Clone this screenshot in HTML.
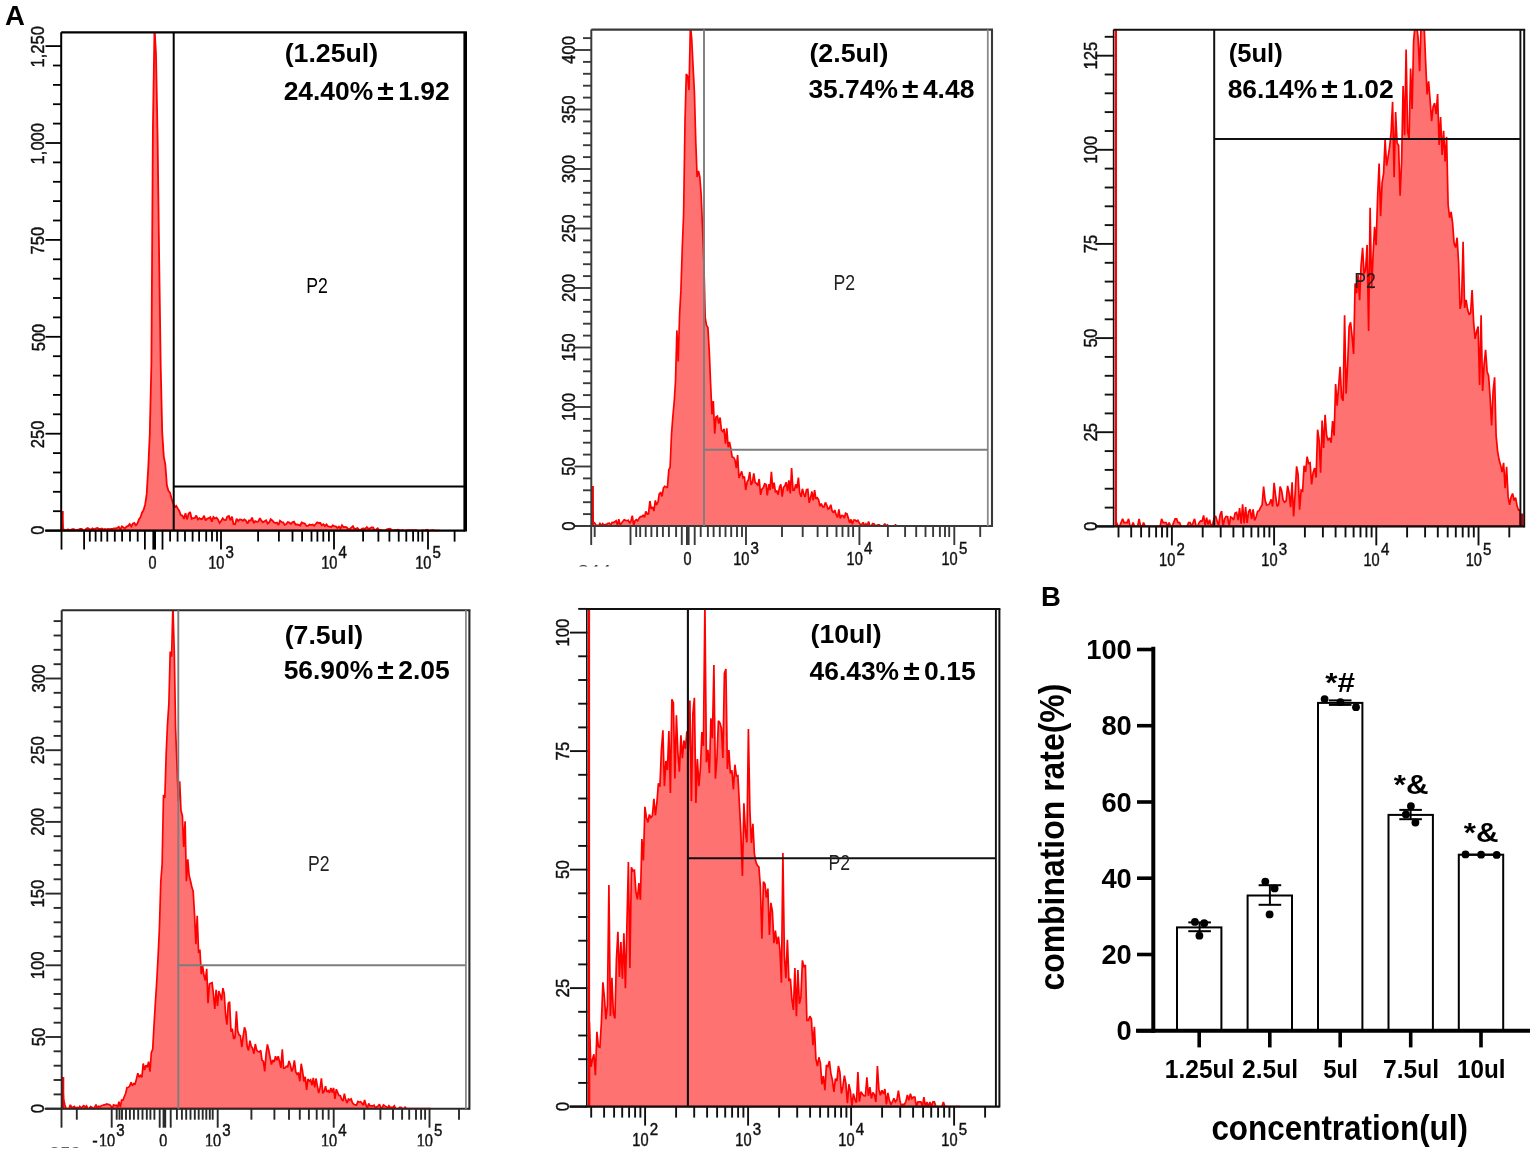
<!DOCTYPE html>
<html><head><meta charset="utf-8"><title>Figure</title>
<style>
html,body{margin:0;padding:0;background:#fff}
svg{display:block}
text{font-family:"Liberation Sans",sans-serif}
</style></head><body>
<svg width="1535" height="1152" viewBox="0 0 1535 1152">
<rect width="1535" height="1152" fill="#fff"/>
<text x="5.0" y="24.5" font-size="27.5" font-weight="bold" text-anchor="start" fill="#000" >A</text>
<clipPath id="c1"><rect x="61.2" y="32.3" width="404.0" height="499.3"/></clipPath>
<g clip-path="url(#c1)">
<path d="M61.5,530.6L61.5,511.0L63.0,529.2L64.6,529.8L66.1,530.6L67.7,529.5L69.2,529.7L70.8,529.8L72.3,529.2L73.9,529.1L75.4,530.2L77.0,530.0L78.5,529.7L80.1,528.8L81.6,528.9L83.2,530.3L84.7,530.1L86.3,528.7L87.8,528.0L89.4,529.2L90.9,529.7L92.5,528.3L94.0,529.4L95.6,528.5L97.1,527.9L98.7,528.6L100.2,529.0L101.8,528.4L103.3,529.5L104.9,529.0L106.4,529.3L108.0,528.9L109.5,529.1L111.1,528.8L112.6,528.9L114.2,528.4L115.7,528.3L117.3,528.0L118.8,526.9L120.4,529.6L121.9,526.3L123.5,527.5L125.0,528.3L126.6,526.6L128.1,525.9L129.7,524.1L131.2,526.4L132.8,523.6L134.3,522.9L135.9,525.2L137.4,523.5L139.0,519.3L140.5,517.2L142.1,512.5L143.6,510.0L145.2,504.2L146.7,493.9L148.3,467.0L149.8,433.5L151.4,363.8L152.9,129.0L154.5,27.3L156.0,54.1L157.6,138.3L159.1,254.6L160.7,366.1L162.2,432.4L163.8,456.6L165.3,464.4L166.9,485.3L168.4,490.8L170.0,492.7L171.5,498.2L173.1,503.2L174.6,506.9L176.2,505.8L177.7,508.4L179.3,511.0L180.8,515.1L182.4,515.6L183.9,518.9L185.5,513.2L187.0,519.4L188.6,513.7L190.1,512.0L191.7,518.8L193.2,518.2L194.8,518.0L196.3,515.5L197.9,519.4L199.4,518.1L201.0,519.2L202.5,518.7L204.1,515.7L205.6,520.5L207.2,518.5L208.7,518.2L210.3,517.2L211.8,521.6L213.4,516.9L214.9,518.5L216.5,517.7L218.0,519.5L219.6,523.0L221.1,521.1L222.7,518.3L224.2,519.9L225.8,520.1L227.3,516.6L228.9,515.9L230.4,520.3L232.0,516.6L233.5,524.1L235.1,524.3L236.6,518.8L238.2,521.0L239.7,519.4L241.3,519.6L242.8,520.8L244.4,519.4L245.9,520.5L247.5,523.7L249.0,520.5L250.6,520.6L252.1,517.6L253.7,523.1L255.2,521.1L256.8,521.9L258.3,521.5L259.9,518.2L261.4,520.7L263.0,522.3L264.5,521.3L266.1,520.3L267.6,523.5L269.2,522.3L270.7,519.2L272.3,520.5L273.8,522.2L275.4,523.0L276.9,522.5L278.5,525.0L280.0,520.8L281.6,522.0L283.1,522.4L284.7,524.9L286.2,524.0L287.8,522.0L289.3,522.6L290.9,523.9L292.4,522.3L294.0,521.7L295.5,524.5L297.1,524.3L298.6,524.9L300.2,525.5L301.7,522.5L303.3,523.1L304.8,523.5L306.4,525.9L307.9,525.9L309.5,524.5L311.0,525.1L312.6,524.5L314.1,525.8L315.7,524.0L317.2,522.4L318.8,523.0L320.3,523.0L321.9,525.3L323.4,524.3L325.0,526.2L326.5,524.5L328.1,526.4L329.6,526.7L331.2,527.0L332.7,525.4L334.3,526.1L335.8,526.3L337.4,528.0L338.9,526.6L340.5,528.6L342.0,525.2L343.6,527.2L345.1,526.9L346.7,527.4L348.2,529.2L349.8,529.0L351.3,527.6L352.9,526.1L354.4,529.0L356.0,528.6L357.5,528.1L359.1,529.8L360.6,529.9L362.2,528.7L363.7,528.4L365.3,528.8L366.8,527.1L368.4,528.8L369.9,528.4L371.5,527.4L373.0,527.4L374.6,530.3L376.1,529.4L377.7,528.2L379.2,530.3L380.8,530.0L382.3,530.3L383.9,530.4L385.4,530.3L387.0,529.4L388.5,528.8L390.1,528.7L391.6,529.7L393.2,530.6L394.7,529.9L396.3,530.1L397.8,529.7L399.4,530.0L400.9,530.6L402.5,529.9L404.0,530.6L405.6,530.5L407.1,530.1L408.7,530.1L410.2,530.2L411.8,530.2L413.3,530.2L414.9,530.2L416.4,530.2L418.0,530.6L419.5,530.6L421.1,530.6L422.6,530.2L424.2,530.6L425.7,530.2L427.3,529.8L428.8,530.6L430.4,530.6L431.9,530.2L433.5,530.2L435.0,530.6L436.6,530.6L438.1,530.6L439.7,530.6L439.7,530.6 Z" fill="#ff7272" stroke="#ff0000" stroke-width="1.80" stroke-linejoin="miter" stroke-miterlimit="2"/>
</g>
<line x1="62.6" y1="511.0" x2="62.6" y2="530.6" stroke="#ff0000" stroke-width="2.20"/>
<line x1="61.2" y1="32.3" x2="466.9" y2="32.3" stroke="#000" stroke-width="2.20"/>
<line x1="61.2" y1="32.3" x2="61.2" y2="530.6" stroke="#000" stroke-width="2.00"/>
<line x1="45.2" y1="530.6" x2="465.2" y2="530.6" stroke="#000" stroke-width="2.20"/>
<line x1="465.2" y1="32.3" x2="465.2" y2="531.6" stroke="#000" stroke-width="3.60"/>
<line x1="173.7" y1="32.3" x2="173.7" y2="530.6" stroke="#000" stroke-width="2.00"/>
<line x1="173.7" y1="486.5" x2="465.2" y2="486.5" stroke="#000" stroke-width="2.00"/>
<line x1="45.5" y1="530.6" x2="61.2" y2="530.6" stroke="#000" stroke-width="1.80"/>
<line x1="53.0" y1="511.2" x2="61.2" y2="511.2" stroke="#000" stroke-width="1.80"/>
<line x1="53.0" y1="491.8" x2="61.2" y2="491.8" stroke="#000" stroke-width="1.80"/>
<line x1="53.0" y1="472.5" x2="61.2" y2="472.5" stroke="#000" stroke-width="1.80"/>
<line x1="53.0" y1="453.1" x2="61.2" y2="453.1" stroke="#000" stroke-width="1.80"/>
<line x1="45.5" y1="433.7" x2="61.2" y2="433.7" stroke="#000" stroke-width="1.80"/>
<line x1="53.0" y1="414.3" x2="61.2" y2="414.3" stroke="#000" stroke-width="1.80"/>
<line x1="53.0" y1="394.9" x2="61.2" y2="394.9" stroke="#000" stroke-width="1.80"/>
<line x1="53.0" y1="375.6" x2="61.2" y2="375.6" stroke="#000" stroke-width="1.80"/>
<line x1="53.0" y1="356.2" x2="61.2" y2="356.2" stroke="#000" stroke-width="1.80"/>
<line x1="45.5" y1="336.8" x2="61.2" y2="336.8" stroke="#000" stroke-width="1.80"/>
<line x1="53.0" y1="317.4" x2="61.2" y2="317.4" stroke="#000" stroke-width="1.80"/>
<line x1="53.0" y1="298.0" x2="61.2" y2="298.0" stroke="#000" stroke-width="1.80"/>
<line x1="53.0" y1="278.7" x2="61.2" y2="278.7" stroke="#000" stroke-width="1.80"/>
<line x1="53.0" y1="259.3" x2="61.2" y2="259.3" stroke="#000" stroke-width="1.80"/>
<line x1="45.5" y1="239.9" x2="61.2" y2="239.9" stroke="#000" stroke-width="1.80"/>
<line x1="53.0" y1="220.5" x2="61.2" y2="220.5" stroke="#000" stroke-width="1.80"/>
<line x1="53.0" y1="201.1" x2="61.2" y2="201.1" stroke="#000" stroke-width="1.80"/>
<line x1="53.0" y1="181.8" x2="61.2" y2="181.8" stroke="#000" stroke-width="1.80"/>
<line x1="53.0" y1="162.4" x2="61.2" y2="162.4" stroke="#000" stroke-width="1.80"/>
<line x1="45.5" y1="143.0" x2="61.2" y2="143.0" stroke="#000" stroke-width="1.80"/>
<line x1="53.0" y1="123.6" x2="61.2" y2="123.6" stroke="#000" stroke-width="1.80"/>
<line x1="53.0" y1="104.2" x2="61.2" y2="104.2" stroke="#000" stroke-width="1.80"/>
<line x1="53.0" y1="84.9" x2="61.2" y2="84.9" stroke="#000" stroke-width="1.80"/>
<line x1="53.0" y1="65.5" x2="61.2" y2="65.5" stroke="#000" stroke-width="1.80"/>
<line x1="45.5" y1="46.1" x2="61.2" y2="46.1" stroke="#000" stroke-width="1.80"/>
<text x="44.5" y="46.8" font-size="19.0" font-weight="normal" text-anchor="middle" fill="#111" textLength="41.4" lengthAdjust="spacingAndGlyphs" transform="rotate(-90 44.5 46.8)" stroke="#111" stroke-width="0.45">1,250</text>
<text x="44.5" y="143.7" font-size="19.0" font-weight="normal" text-anchor="middle" fill="#111" textLength="41.4" lengthAdjust="spacingAndGlyphs" transform="rotate(-90 44.5 143.7)" stroke="#111" stroke-width="0.45">1,000</text>
<text x="44.5" y="240.6" font-size="19.0" font-weight="normal" text-anchor="middle" fill="#111" textLength="27.6" lengthAdjust="spacingAndGlyphs" transform="rotate(-90 44.5 240.6)" stroke="#111" stroke-width="0.45">750</text>
<text x="44.5" y="337.5" font-size="19.0" font-weight="normal" text-anchor="middle" fill="#111" textLength="27.6" lengthAdjust="spacingAndGlyphs" transform="rotate(-90 44.5 337.5)" stroke="#111" stroke-width="0.45">500</text>
<text x="44.5" y="434.4" font-size="19.0" font-weight="normal" text-anchor="middle" fill="#111" textLength="27.6" lengthAdjust="spacingAndGlyphs" transform="rotate(-90 44.5 434.4)" stroke="#111" stroke-width="0.45">250</text>
<text x="44.5" y="530.1" font-size="19.0" font-weight="normal" text-anchor="middle" fill="#111" textLength="9.2" lengthAdjust="spacingAndGlyphs" transform="rotate(-90 44.5 530.1)" stroke="#111" stroke-width="0.45">0</text>
<line x1="61.5" y1="530.6" x2="61.5" y2="549.6" stroke="#000" stroke-width="1.80"/>
<line x1="84.1" y1="530.6" x2="84.1" y2="549.6" stroke="#000" stroke-width="1.80"/>
<line x1="89.8" y1="530.6" x2="89.8" y2="541.6" stroke="#000" stroke-width="1.80"/>
<line x1="95.6" y1="530.6" x2="95.6" y2="541.6" stroke="#000" stroke-width="1.80"/>
<line x1="101.3" y1="530.6" x2="101.3" y2="541.6" stroke="#000" stroke-width="1.80"/>
<line x1="107.3" y1="530.6" x2="107.3" y2="541.6" stroke="#000" stroke-width="1.80"/>
<line x1="114.8" y1="530.6" x2="114.8" y2="541.6" stroke="#000" stroke-width="1.80"/>
<line x1="122.1" y1="530.6" x2="122.1" y2="541.6" stroke="#000" stroke-width="1.80"/>
<line x1="130.0" y1="530.6" x2="130.0" y2="541.6" stroke="#000" stroke-width="1.80"/>
<line x1="137.7" y1="530.6" x2="137.7" y2="541.6" stroke="#000" stroke-width="1.80"/>
<line x1="144.9" y1="530.6" x2="144.9" y2="549.6" stroke="#000" stroke-width="1.80"/>
<line x1="154.2" y1="530.6" x2="154.2" y2="549.6" stroke="#000" stroke-width="3.60"/>
<line x1="162.5" y1="530.6" x2="162.5" y2="549.6" stroke="#000" stroke-width="1.80"/>
<line x1="170.1" y1="530.6" x2="170.1" y2="541.6" stroke="#000" stroke-width="1.80"/>
<line x1="177.6" y1="530.6" x2="177.6" y2="541.6" stroke="#000" stroke-width="1.80"/>
<line x1="185.0" y1="530.6" x2="185.0" y2="541.6" stroke="#000" stroke-width="1.80"/>
<line x1="192.6" y1="530.6" x2="192.6" y2="541.6" stroke="#000" stroke-width="1.80"/>
<line x1="199.1" y1="530.6" x2="199.1" y2="541.6" stroke="#000" stroke-width="1.80"/>
<line x1="206.2" y1="530.6" x2="206.2" y2="541.6" stroke="#000" stroke-width="1.80"/>
<line x1="212.0" y1="530.6" x2="212.0" y2="541.6" stroke="#000" stroke-width="1.80"/>
<line x1="217.0" y1="530.6" x2="217.0" y2="541.6" stroke="#000" stroke-width="1.80"/>
<line x1="221.0" y1="530.6" x2="221.0" y2="549.6" stroke="#000" stroke-width="1.80"/>
<line x1="258.1" y1="530.6" x2="258.1" y2="541.6" stroke="#000" stroke-width="1.80"/>
<line x1="278.9" y1="530.6" x2="278.9" y2="541.6" stroke="#000" stroke-width="1.80"/>
<line x1="292.5" y1="530.6" x2="292.5" y2="541.6" stroke="#000" stroke-width="1.80"/>
<line x1="302.1" y1="530.6" x2="302.1" y2="541.6" stroke="#000" stroke-width="1.80"/>
<line x1="311.5" y1="530.6" x2="311.5" y2="541.6" stroke="#000" stroke-width="1.80"/>
<line x1="317.4" y1="530.6" x2="317.4" y2="541.6" stroke="#000" stroke-width="1.80"/>
<line x1="323.3" y1="530.6" x2="323.3" y2="541.6" stroke="#000" stroke-width="1.80"/>
<line x1="328.9" y1="530.6" x2="328.9" y2="541.6" stroke="#000" stroke-width="1.80"/>
<line x1="334.0" y1="530.6" x2="334.0" y2="549.6" stroke="#000" stroke-width="1.80"/>
<line x1="363.1" y1="530.6" x2="363.1" y2="541.6" stroke="#000" stroke-width="1.80"/>
<line x1="378.4" y1="530.6" x2="378.4" y2="541.6" stroke="#000" stroke-width="1.80"/>
<line x1="389.4" y1="530.6" x2="389.4" y2="541.6" stroke="#000" stroke-width="1.80"/>
<line x1="398.7" y1="530.6" x2="398.7" y2="541.6" stroke="#000" stroke-width="1.80"/>
<line x1="406.3" y1="530.6" x2="406.3" y2="541.6" stroke="#000" stroke-width="1.80"/>
<line x1="413.1" y1="530.6" x2="413.1" y2="541.6" stroke="#000" stroke-width="1.80"/>
<line x1="418.2" y1="530.6" x2="418.2" y2="541.6" stroke="#000" stroke-width="1.80"/>
<line x1="422.4" y1="530.6" x2="422.4" y2="541.6" stroke="#000" stroke-width="1.80"/>
<line x1="428.0" y1="530.6" x2="428.0" y2="549.6" stroke="#000" stroke-width="1.80"/>
<line x1="454.6" y1="530.6" x2="454.6" y2="541.6" stroke="#000" stroke-width="1.80"/>
<clipPath id="c1x"><rect x="60" y="540" width="420" height="28.7"/></clipPath><g clip-path="url(#c1x)">
<text x="148.5" y="569.3" font-size="18.2" font-weight="normal" text-anchor="start" fill="#111" textLength="8.0" lengthAdjust="spacingAndGlyphs" stroke="#111" stroke-width="0.45">0</text>
<text x="208.2" y="569.3" font-size="18.2" font-weight="normal" text-anchor="start" fill="#111" textLength="16.2" lengthAdjust="spacingAndGlyphs" stroke="#111" stroke-width="0.45">10</text>
<text x="225.6" y="558.3" font-size="16.6" font-weight="normal" text-anchor="start" fill="#111" textLength="8.4" lengthAdjust="spacingAndGlyphs" stroke="#111" stroke-width="0.45">3</text>
<text x="321.2" y="569.3" font-size="18.2" font-weight="normal" text-anchor="start" fill="#111" textLength="16.2" lengthAdjust="spacingAndGlyphs" stroke="#111" stroke-width="0.45">10</text>
<text x="338.6" y="558.3" font-size="16.6" font-weight="normal" text-anchor="start" fill="#111" textLength="8.4" lengthAdjust="spacingAndGlyphs" stroke="#111" stroke-width="0.45">4</text>
<text x="415.2" y="569.3" font-size="18.2" font-weight="normal" text-anchor="start" fill="#111" textLength="16.2" lengthAdjust="spacingAndGlyphs" stroke="#111" stroke-width="0.45">10</text>
<text x="432.6" y="558.3" font-size="16.6" font-weight="normal" text-anchor="start" fill="#111" textLength="8.4" lengthAdjust="spacingAndGlyphs" stroke="#111" stroke-width="0.45">5</text>
</g>
<text x="306.3" y="292.9" font-size="22.6" font-weight="normal" text-anchor="start" fill="#000" textLength="21.6" lengthAdjust="spacingAndGlyphs" >P2</text>
<text x="284.7" y="62.3" font-size="26.5" font-weight="bold" text-anchor="start" fill="#000" textLength="93.5" lengthAdjust="spacingAndGlyphs" >(1.25ul)</text>
<text x="283.7" y="99.5" font-size="26.5" font-weight="bold" text-anchor="start" fill="#000" textLength="89.5" lengthAdjust="spacingAndGlyphs" >24.40%</text>
<text x="377.3" y="99.5" font-size="28.0" font-weight="bold" text-anchor="start" fill="#000" textLength="16.5" lengthAdjust="spacingAndGlyphs" >±</text>
<text x="398.2" y="99.5" font-size="26.5" font-weight="bold" text-anchor="start" fill="#000" textLength="51.5" lengthAdjust="spacingAndGlyphs" >1.92</text>
<clipPath id="c2"><rect x="591.3" y="29.6" width="400.7" height="497.4"/></clipPath>
<g clip-path="url(#c2)">
<path d="M591.8,526.0L591.8,486.0L593.1,521.8L594.5,522.9L595.9,525.0L597.2,525.3L598.6,525.8L599.9,523.5L601.3,525.8L602.6,523.7L604.0,525.1L605.3,524.3L606.7,524.5L608.0,523.4L609.4,523.1L610.7,525.4L612.1,522.5L613.4,522.6L614.8,521.8L616.1,520.7L617.5,525.2L618.8,519.3L620.2,525.0L621.5,523.2L622.9,521.3L624.2,519.8L625.6,520.4L626.9,520.7L628.3,520.2L629.6,523.2L631.0,520.9L632.3,515.7L633.7,525.7L635.0,520.8L636.4,519.7L637.7,520.8L639.1,518.2L640.4,516.7L641.8,516.7L643.1,515.3L644.5,517.4L645.8,511.4L647.2,514.0L648.5,513.9L649.9,501.0L651.2,508.8L652.6,506.9L653.9,511.1L655.3,500.4L656.6,504.9L658.0,502.0L659.3,493.8L660.7,492.6L662.0,496.4L663.4,488.1L664.7,486.3L666.1,486.9L667.4,487.8L668.8,469.7L670.1,467.3L671.5,434.5L672.8,417.1L674.2,401.9L675.5,381.3L676.9,330.4L678.2,361.5L679.6,314.3L680.9,290.9L682.3,246.9L683.6,214.2L685.0,121.6L686.3,73.9L687.7,76.5L689.0,90.1L690.4,24.6L691.7,38.7L693.1,66.9L694.4,92.0L695.8,142.0L697.1,177.0L698.5,170.9L699.8,176.8L701.2,195.0L702.5,227.8L703.9,263.5L705.2,317.7L706.6,325.6L707.9,327.6L709.3,351.8L710.6,383.5L712.0,414.5L713.3,401.1L714.7,433.7L716.0,416.9L717.4,416.1L718.7,423.5L720.1,417.5L721.4,430.2L722.8,431.5L724.1,428.9L725.5,443.6L726.8,428.2L728.2,447.2L729.5,442.0L730.9,448.8L732.2,457.1L733.6,457.4L734.9,459.7L736.3,468.1L737.6,455.1L739.0,477.9L740.3,474.7L741.7,471.3L743.0,477.8L744.4,476.7L745.7,490.0L747.1,482.1L748.4,479.7L749.8,472.0L751.1,484.8L752.5,482.1L753.8,473.3L755.2,482.9L756.5,483.3L757.9,485.7L759.2,479.0L760.6,494.9L761.9,489.2L763.3,487.7L764.6,483.9L766.0,484.4L767.3,495.5L768.7,484.3L770.0,490.1L771.4,471.9L772.7,488.7L774.1,482.7L775.4,491.7L776.8,490.9L778.1,494.7L779.5,487.2L780.8,484.4L782.2,496.6L783.5,487.4L784.9,485.7L786.2,482.2L787.6,491.1L788.9,480.3L790.3,493.4L791.6,468.0L793.0,490.4L794.3,490.3L795.7,484.4L797.0,488.1L798.4,477.6L799.7,492.8L801.1,496.8L802.4,488.8L803.8,493.7L805.1,497.2L806.5,489.6L807.8,489.3L809.2,502.8L810.5,498.1L811.9,491.5L813.2,500.5L814.6,490.0L815.9,498.9L817.3,497.7L818.6,499.9L820.0,506.2L821.3,503.6L822.7,506.8L824.0,506.8L825.4,502.4L826.7,505.1L828.1,509.1L829.4,508.1L830.8,504.8L832.1,510.8L833.5,512.8L834.8,510.0L836.2,514.8L837.5,517.5L838.9,509.4L840.2,518.4L841.6,515.5L842.9,515.5L844.3,518.0L845.6,513.2L847.0,513.9L848.3,518.1L849.7,523.0L851.0,519.4L852.4,524.2L853.7,520.0L855.1,520.0L856.4,521.4L857.8,520.2L859.1,522.5L860.5,524.6L861.8,524.3L863.2,522.4L864.5,526.0L865.9,523.8L867.2,525.9L868.6,521.5L869.9,526.0L871.3,526.0L872.6,523.7L874.0,523.9L875.3,525.8L876.7,525.3L878.0,524.8L879.4,524.8L880.7,526.0L882.1,526.0L883.4,526.0L884.8,523.6L886.1,526.0L887.5,524.8L888.8,526.0L890.2,526.0L891.5,526.0L892.9,526.0L894.2,526.0L895.6,524.8L896.9,526.0L898.3,526.0L899.6,526.0L901.0,526.0L902.3,526.0L903.7,526.0L905.0,526.0L906.4,526.0L907.7,526.0L909.1,526.0L910.4,526.0L911.8,526.0L913.1,526.0L914.5,526.0L915.8,526.0L917.2,526.0L918.5,526.0L919.9,526.0L921.2,526.0L922.6,526.0L923.9,526.0L923.9,526.0 Z" fill="#ff7272" stroke="#ff0000" stroke-width="1.70" stroke-linejoin="miter" stroke-miterlimit="2"/>
</g>
<line x1="592.8" y1="486.0" x2="592.8" y2="526.0" stroke="#ff0000" stroke-width="2.20"/>
<line x1="591.3" y1="29.6" x2="993.0" y2="29.6" stroke="#3a3a3a" stroke-width="2.10"/>
<line x1="591.3" y1="29.6" x2="591.3" y2="526.0" stroke="#3a3a3a" stroke-width="2.00"/>
<line x1="574.3" y1="526.0" x2="992.0" y2="526.0" stroke="#3a3a3a" stroke-width="2.10"/>
<line x1="992.0" y1="29.6" x2="992.0" y2="527.0" stroke="#3a3a3a" stroke-width="2.10"/>
<line x1="987.8" y1="29.6" x2="987.8" y2="526.0" stroke="#8a8a8a" stroke-width="1.80"/>
<line x1="704.0" y1="29.6" x2="704.0" y2="526.0" stroke="#7d7d7d" stroke-width="1.90"/>
<line x1="704.0" y1="449.8" x2="987.8" y2="449.8" stroke="#7d7d7d" stroke-width="1.90"/>
<line x1="574.5" y1="526.0" x2="591.3" y2="526.0" stroke="#3a3a3a" stroke-width="1.90"/>
<line x1="583.0" y1="514.1" x2="591.3" y2="514.1" stroke="#3a3a3a" stroke-width="1.90"/>
<line x1="583.0" y1="502.2" x2="591.3" y2="502.2" stroke="#3a3a3a" stroke-width="1.90"/>
<line x1="583.0" y1="490.3" x2="591.3" y2="490.3" stroke="#3a3a3a" stroke-width="1.90"/>
<line x1="583.0" y1="478.4" x2="591.3" y2="478.4" stroke="#3a3a3a" stroke-width="1.90"/>
<line x1="574.5" y1="466.5" x2="591.3" y2="466.5" stroke="#3a3a3a" stroke-width="1.90"/>
<line x1="583.0" y1="454.6" x2="591.3" y2="454.6" stroke="#3a3a3a" stroke-width="1.90"/>
<line x1="583.0" y1="442.7" x2="591.3" y2="442.7" stroke="#3a3a3a" stroke-width="1.90"/>
<line x1="583.0" y1="430.8" x2="591.3" y2="430.8" stroke="#3a3a3a" stroke-width="1.90"/>
<line x1="583.0" y1="418.9" x2="591.3" y2="418.9" stroke="#3a3a3a" stroke-width="1.90"/>
<line x1="574.5" y1="407.0" x2="591.3" y2="407.0" stroke="#3a3a3a" stroke-width="1.90"/>
<line x1="583.0" y1="395.1" x2="591.3" y2="395.1" stroke="#3a3a3a" stroke-width="1.90"/>
<line x1="583.0" y1="383.2" x2="591.3" y2="383.2" stroke="#3a3a3a" stroke-width="1.90"/>
<line x1="583.0" y1="371.3" x2="591.3" y2="371.3" stroke="#3a3a3a" stroke-width="1.90"/>
<line x1="583.0" y1="359.4" x2="591.3" y2="359.4" stroke="#3a3a3a" stroke-width="1.90"/>
<line x1="574.5" y1="347.5" x2="591.3" y2="347.5" stroke="#3a3a3a" stroke-width="1.90"/>
<line x1="583.0" y1="335.6" x2="591.3" y2="335.6" stroke="#3a3a3a" stroke-width="1.90"/>
<line x1="583.0" y1="323.7" x2="591.3" y2="323.7" stroke="#3a3a3a" stroke-width="1.90"/>
<line x1="583.0" y1="311.8" x2="591.3" y2="311.8" stroke="#3a3a3a" stroke-width="1.90"/>
<line x1="583.0" y1="299.9" x2="591.3" y2="299.9" stroke="#3a3a3a" stroke-width="1.90"/>
<line x1="574.5" y1="288.0" x2="591.3" y2="288.0" stroke="#3a3a3a" stroke-width="1.90"/>
<line x1="583.0" y1="276.1" x2="591.3" y2="276.1" stroke="#3a3a3a" stroke-width="1.90"/>
<line x1="583.0" y1="264.2" x2="591.3" y2="264.2" stroke="#3a3a3a" stroke-width="1.90"/>
<line x1="583.0" y1="252.3" x2="591.3" y2="252.3" stroke="#3a3a3a" stroke-width="1.90"/>
<line x1="583.0" y1="240.4" x2="591.3" y2="240.4" stroke="#3a3a3a" stroke-width="1.90"/>
<line x1="574.5" y1="228.5" x2="591.3" y2="228.5" stroke="#3a3a3a" stroke-width="1.90"/>
<line x1="583.0" y1="216.6" x2="591.3" y2="216.6" stroke="#3a3a3a" stroke-width="1.90"/>
<line x1="583.0" y1="204.7" x2="591.3" y2="204.7" stroke="#3a3a3a" stroke-width="1.90"/>
<line x1="583.0" y1="192.8" x2="591.3" y2="192.8" stroke="#3a3a3a" stroke-width="1.90"/>
<line x1="583.0" y1="180.9" x2="591.3" y2="180.9" stroke="#3a3a3a" stroke-width="1.90"/>
<line x1="574.5" y1="169.0" x2="591.3" y2="169.0" stroke="#3a3a3a" stroke-width="1.90"/>
<line x1="583.0" y1="157.1" x2="591.3" y2="157.1" stroke="#3a3a3a" stroke-width="1.90"/>
<line x1="583.0" y1="145.2" x2="591.3" y2="145.2" stroke="#3a3a3a" stroke-width="1.90"/>
<line x1="583.0" y1="133.3" x2="591.3" y2="133.3" stroke="#3a3a3a" stroke-width="1.90"/>
<line x1="583.0" y1="121.4" x2="591.3" y2="121.4" stroke="#3a3a3a" stroke-width="1.90"/>
<line x1="574.5" y1="109.5" x2="591.3" y2="109.5" stroke="#3a3a3a" stroke-width="1.90"/>
<line x1="583.0" y1="97.6" x2="591.3" y2="97.6" stroke="#3a3a3a" stroke-width="1.90"/>
<line x1="583.0" y1="85.7" x2="591.3" y2="85.7" stroke="#3a3a3a" stroke-width="1.90"/>
<line x1="583.0" y1="73.8" x2="591.3" y2="73.8" stroke="#3a3a3a" stroke-width="1.90"/>
<line x1="583.0" y1="61.9" x2="591.3" y2="61.9" stroke="#3a3a3a" stroke-width="1.90"/>
<line x1="574.5" y1="50.0" x2="591.3" y2="50.0" stroke="#3a3a3a" stroke-width="1.90"/>
<line x1="583.0" y1="38.1" x2="591.3" y2="38.1" stroke="#3a3a3a" stroke-width="1.90"/>
<text x="575.0" y="50.0" font-size="18.0" font-weight="normal" text-anchor="middle" fill="#111" textLength="27.9" lengthAdjust="spacingAndGlyphs" transform="rotate(-90 575.0 50.0)" stroke="#111" stroke-width="0.45">400</text>
<text x="575.0" y="109.5" font-size="18.0" font-weight="normal" text-anchor="middle" fill="#111" textLength="27.9" lengthAdjust="spacingAndGlyphs" transform="rotate(-90 575.0 109.5)" stroke="#111" stroke-width="0.45">350</text>
<text x="575.0" y="169.0" font-size="18.0" font-weight="normal" text-anchor="middle" fill="#111" textLength="27.9" lengthAdjust="spacingAndGlyphs" transform="rotate(-90 575.0 169.0)" stroke="#111" stroke-width="0.45">300</text>
<text x="575.0" y="228.5" font-size="18.0" font-weight="normal" text-anchor="middle" fill="#111" textLength="27.9" lengthAdjust="spacingAndGlyphs" transform="rotate(-90 575.0 228.5)" stroke="#111" stroke-width="0.45">250</text>
<text x="575.0" y="288.0" font-size="18.0" font-weight="normal" text-anchor="middle" fill="#111" textLength="27.9" lengthAdjust="spacingAndGlyphs" transform="rotate(-90 575.0 288.0)" stroke="#111" stroke-width="0.45">200</text>
<text x="575.0" y="347.5" font-size="18.0" font-weight="normal" text-anchor="middle" fill="#111" textLength="27.9" lengthAdjust="spacingAndGlyphs" transform="rotate(-90 575.0 347.5)" stroke="#111" stroke-width="0.45">150</text>
<text x="575.0" y="407.0" font-size="18.0" font-weight="normal" text-anchor="middle" fill="#111" textLength="27.9" lengthAdjust="spacingAndGlyphs" transform="rotate(-90 575.0 407.0)" stroke="#111" stroke-width="0.45">100</text>
<text x="575.0" y="466.5" font-size="18.0" font-weight="normal" text-anchor="middle" fill="#111" textLength="18.6" lengthAdjust="spacingAndGlyphs" transform="rotate(-90 575.0 466.5)" stroke="#111" stroke-width="0.45">50</text>
<text x="575.0" y="526.0" font-size="18.0" font-weight="normal" text-anchor="middle" fill="#111" textLength="9.3" lengthAdjust="spacingAndGlyphs" transform="rotate(-90 575.0 526.0)" stroke="#111" stroke-width="0.45">0</text>
<line x1="591.2" y1="526.0" x2="591.2" y2="545.0" stroke="#3a3a3a" stroke-width="1.90"/>
<line x1="594.7" y1="526.0" x2="594.7" y2="537.0" stroke="#3a3a3a" stroke-width="1.90"/>
<line x1="630.5" y1="526.0" x2="630.5" y2="545.0" stroke="#3a3a3a" stroke-width="1.90"/>
<line x1="636.2" y1="526.0" x2="636.2" y2="537.0" stroke="#3a3a3a" stroke-width="1.90"/>
<line x1="640.2" y1="526.0" x2="640.2" y2="537.0" stroke="#3a3a3a" stroke-width="1.90"/>
<line x1="645.7" y1="526.0" x2="645.7" y2="537.0" stroke="#3a3a3a" stroke-width="1.90"/>
<line x1="651.4" y1="526.0" x2="651.4" y2="537.0" stroke="#3a3a3a" stroke-width="1.90"/>
<line x1="657.1" y1="526.0" x2="657.1" y2="537.0" stroke="#3a3a3a" stroke-width="1.90"/>
<line x1="662.9" y1="526.0" x2="662.9" y2="537.0" stroke="#3a3a3a" stroke-width="1.90"/>
<line x1="668.9" y1="526.0" x2="668.9" y2="537.0" stroke="#3a3a3a" stroke-width="1.90"/>
<line x1="676.1" y1="526.0" x2="676.1" y2="537.0" stroke="#3a3a3a" stroke-width="1.90"/>
<line x1="681.8" y1="526.0" x2="681.8" y2="545.0" stroke="#3a3a3a" stroke-width="1.90"/>
<line x1="687.8" y1="526.0" x2="687.8" y2="545.0" stroke="#3a3a3a" stroke-width="3.60"/>
<line x1="694.7" y1="526.0" x2="694.7" y2="545.0" stroke="#3a3a3a" stroke-width="1.90"/>
<line x1="700.7" y1="526.0" x2="700.7" y2="537.0" stroke="#3a3a3a" stroke-width="1.90"/>
<line x1="707.9" y1="526.0" x2="707.9" y2="537.0" stroke="#3a3a3a" stroke-width="1.90"/>
<line x1="713.6" y1="526.0" x2="713.6" y2="537.0" stroke="#3a3a3a" stroke-width="1.90"/>
<line x1="719.8" y1="526.0" x2="719.8" y2="537.0" stroke="#3a3a3a" stroke-width="1.90"/>
<line x1="725.5" y1="526.0" x2="725.5" y2="537.0" stroke="#3a3a3a" stroke-width="1.90"/>
<line x1="731.2" y1="526.0" x2="731.2" y2="537.0" stroke="#3a3a3a" stroke-width="1.90"/>
<line x1="737.0" y1="526.0" x2="737.0" y2="537.0" stroke="#3a3a3a" stroke-width="1.90"/>
<line x1="742.0" y1="526.0" x2="742.0" y2="537.0" stroke="#3a3a3a" stroke-width="1.90"/>
<line x1="746.0" y1="526.0" x2="746.0" y2="545.0" stroke="#3a3a3a" stroke-width="1.90"/>
<line x1="782.0" y1="526.0" x2="782.0" y2="537.0" stroke="#3a3a3a" stroke-width="1.90"/>
<line x1="802.7" y1="526.0" x2="802.7" y2="537.0" stroke="#3a3a3a" stroke-width="1.90"/>
<line x1="817.6" y1="526.0" x2="817.6" y2="537.0" stroke="#3a3a3a" stroke-width="1.90"/>
<line x1="827.2" y1="526.0" x2="827.2" y2="537.0" stroke="#3a3a3a" stroke-width="1.90"/>
<line x1="836.5" y1="526.0" x2="836.5" y2="537.0" stroke="#3a3a3a" stroke-width="1.90"/>
<line x1="842.5" y1="526.0" x2="842.5" y2="537.0" stroke="#3a3a3a" stroke-width="1.90"/>
<line x1="848.4" y1="526.0" x2="848.4" y2="537.0" stroke="#3a3a3a" stroke-width="1.90"/>
<line x1="853.1" y1="526.0" x2="853.1" y2="537.0" stroke="#3a3a3a" stroke-width="1.90"/>
<line x1="859.4" y1="526.0" x2="859.4" y2="545.0" stroke="#3a3a3a" stroke-width="1.90"/>
<line x1="887.9" y1="526.0" x2="887.9" y2="537.0" stroke="#3a3a3a" stroke-width="1.90"/>
<line x1="905.1" y1="526.0" x2="905.1" y2="537.0" stroke="#3a3a3a" stroke-width="1.90"/>
<line x1="916.2" y1="526.0" x2="916.2" y2="537.0" stroke="#3a3a3a" stroke-width="1.90"/>
<line x1="925.5" y1="526.0" x2="925.5" y2="537.0" stroke="#3a3a3a" stroke-width="1.90"/>
<line x1="933.1" y1="526.0" x2="933.1" y2="537.0" stroke="#3a3a3a" stroke-width="1.90"/>
<line x1="939.9" y1="526.0" x2="939.9" y2="537.0" stroke="#3a3a3a" stroke-width="1.90"/>
<line x1="945.0" y1="526.0" x2="945.0" y2="537.0" stroke="#3a3a3a" stroke-width="1.90"/>
<line x1="949.2" y1="526.0" x2="949.2" y2="537.0" stroke="#3a3a3a" stroke-width="1.90"/>
<line x1="954.3" y1="526.0" x2="954.3" y2="545.0" stroke="#3a3a3a" stroke-width="1.90"/>
<line x1="980.2" y1="526.0" x2="980.2" y2="537.0" stroke="#3a3a3a" stroke-width="1.90"/>
<text x="683.5" y="565.3" font-size="18.2" font-weight="normal" text-anchor="start" fill="#111" textLength="8.0" lengthAdjust="spacingAndGlyphs" stroke="#111" stroke-width="0.45">0</text>
<text x="733.2" y="565.3" font-size="18.2" font-weight="normal" text-anchor="start" fill="#111" textLength="16.2" lengthAdjust="spacingAndGlyphs" stroke="#111" stroke-width="0.45">10</text>
<text x="750.6" y="554.3" font-size="16.6" font-weight="normal" text-anchor="start" fill="#111" textLength="8.4" lengthAdjust="spacingAndGlyphs" stroke="#111" stroke-width="0.45">3</text>
<text x="846.6" y="565.3" font-size="18.2" font-weight="normal" text-anchor="start" fill="#111" textLength="16.2" lengthAdjust="spacingAndGlyphs" stroke="#111" stroke-width="0.45">10</text>
<text x="864.0" y="554.3" font-size="16.6" font-weight="normal" text-anchor="start" fill="#111" textLength="8.4" lengthAdjust="spacingAndGlyphs" stroke="#111" stroke-width="0.45">4</text>
<text x="941.5" y="565.3" font-size="18.2" font-weight="normal" text-anchor="start" fill="#111" textLength="16.2" lengthAdjust="spacingAndGlyphs" stroke="#111" stroke-width="0.45">10</text>
<text x="958.9" y="554.3" font-size="16.6" font-weight="normal" text-anchor="start" fill="#111" textLength="8.4" lengthAdjust="spacingAndGlyphs" stroke="#111" stroke-width="0.45">5</text>
<text x="833.5" y="290.0" font-size="22.6" font-weight="normal" text-anchor="start" fill="#222" textLength="21.6" lengthAdjust="spacingAndGlyphs" >P2</text>
<text x="809.4" y="61.5" font-size="26.5" font-weight="bold" text-anchor="start" fill="#000" textLength="79.0" lengthAdjust="spacingAndGlyphs" >(2.5ul)</text>
<text x="808.4" y="98.0" font-size="26.5" font-weight="bold" text-anchor="start" fill="#000" textLength="89.5" lengthAdjust="spacingAndGlyphs" >35.74%</text>
<text x="902.0" y="98.0" font-size="28.0" font-weight="bold" text-anchor="start" fill="#000" textLength="16.5" lengthAdjust="spacingAndGlyphs" >±</text>
<text x="922.9" y="98.0" font-size="26.5" font-weight="bold" text-anchor="start" fill="#000" textLength="51.5" lengthAdjust="spacingAndGlyphs" >4.48</text>
<clipPath id="c2b"><rect x="565" y="563.6" width="60" height="3"/></clipPath>
<g clip-path="url(#c2b)">
<text x="571.0" y="577.0" font-size="17.0" font-weight="normal" text-anchor="start" fill="#333" textLength="40.0" lengthAdjust="spacingAndGlyphs" >-344</text>
</g>
<clipPath id="c3"><rect x="1114.2" y="29.8" width="407.2" height="497.6"/></clipPath>
<g clip-path="url(#c3)">
<path d="M1116.6,526.4L1116.6,522.6L1118.1,526.4L1119.6,526.4L1121.1,522.6L1122.6,518.9L1124.1,522.6L1125.6,522.6L1127.1,522.6L1128.6,518.9L1130.1,526.4L1131.6,526.4L1133.1,522.6L1134.6,526.4L1136.1,526.4L1137.6,526.4L1139.1,518.9L1140.6,526.4L1142.1,526.4L1143.6,522.6L1145.1,526.4L1146.6,526.4L1148.1,526.4L1149.6,526.4L1151.1,526.4L1152.6,526.4L1154.1,526.4L1155.6,526.4L1157.1,526.4L1158.6,526.4L1160.1,526.4L1161.6,518.9L1163.1,522.6L1164.6,522.6L1166.1,522.6L1167.6,526.4L1169.1,522.6L1170.6,526.4L1172.1,526.4L1173.6,522.6L1175.1,518.9L1176.6,518.9L1178.1,522.6L1179.6,522.6L1181.1,526.4L1182.6,526.4L1184.1,526.4L1185.6,526.4L1187.1,526.4L1188.6,522.6L1190.1,522.6L1191.6,526.4L1193.1,522.6L1194.6,518.9L1196.1,526.4L1197.6,526.4L1199.1,522.6L1200.6,520.9L1202.1,521.1L1203.6,515.4L1205.1,525.3L1206.6,517.7L1208.1,524.6L1209.6,519.7L1211.1,526.4L1212.6,524.2L1214.1,518.3L1215.6,516.0L1217.1,520.9L1218.6,525.8L1220.1,514.8L1221.6,511.2L1223.1,526.4L1224.6,518.9L1226.1,516.5L1227.6,516.8L1229.1,526.4L1230.6,516.9L1232.1,517.8L1233.6,519.9L1235.1,513.1L1236.6,512.4L1238.1,520.1L1239.6,508.1L1241.1,523.6L1242.6,504.2L1244.1,523.3L1245.6,507.1L1247.1,522.8L1248.6,511.8L1250.1,509.3L1251.6,519.1L1253.1,509.4L1254.6,520.4L1256.1,517.0L1257.6,511.3L1259.1,510.7L1260.6,507.3L1262.1,505.0L1263.6,486.6L1265.1,500.1L1266.6,505.0L1268.1,504.8L1269.6,503.6L1271.1,499.3L1272.6,506.5L1274.1,482.9L1275.6,495.6L1277.1,506.4L1278.6,504.2L1280.1,486.5L1281.6,490.4L1283.1,499.9L1284.6,502.2L1286.1,501.1L1287.6,485.9L1289.1,493.1L1290.6,507.1L1292.1,482.3L1293.6,516.4L1295.1,494.1L1296.6,466.4L1298.1,474.4L1299.6,509.8L1301.1,490.2L1302.6,491.1L1304.1,465.8L1305.6,471.8L1307.1,456.6L1308.6,463.5L1310.1,462.8L1311.6,484.5L1313.1,472.7L1314.6,468.1L1316.1,477.5L1317.6,429.7L1319.1,440.0L1320.6,472.7L1322.1,420.5L1323.6,448.0L1325.1,414.8L1326.6,435.2L1328.1,440.4L1329.6,437.8L1331.1,442.8L1332.6,421.1L1334.1,435.7L1335.6,384.0L1337.1,405.6L1338.6,386.8L1340.1,366.8L1341.6,397.6L1343.1,400.8L1344.6,315.3L1346.1,393.6L1347.6,365.5L1349.1,327.0L1350.6,322.3L1352.1,336.4L1353.6,353.9L1355.1,283.4L1356.6,293.3L1358.1,275.0L1359.6,300.1L1361.1,265.3L1362.6,247.9L1364.1,274.1L1365.6,269.5L1367.1,244.9L1368.6,331.1L1370.1,207.8L1371.6,288.6L1373.1,254.0L1374.6,226.8L1376.1,245.1L1377.6,197.1L1379.1,163.5L1380.6,216.1L1382.1,182.6L1383.6,173.3L1385.1,139.7L1386.6,165.6L1388.1,156.8L1389.6,147.0L1391.1,132.3L1392.6,101.9L1394.1,177.3L1395.6,112.1L1397.1,142.8L1398.6,145.5L1400.1,195.8L1401.6,162.0L1403.1,86.0L1404.6,135.3L1406.1,49.5L1407.6,131.4L1409.1,138.6L1410.6,68.6L1412.1,109.0L1413.6,41.4L1415.1,24.8L1416.6,25.2L1418.1,37.6L1419.6,71.3L1421.1,24.8L1422.6,24.8L1424.1,24.8L1425.6,60.9L1427.1,94.5L1428.6,81.3L1430.1,100.1L1431.6,121.1L1433.1,107.0L1434.6,103.1L1436.1,114.1L1437.6,94.0L1439.1,144.9L1440.6,117.0L1442.1,155.0L1443.6,130.9L1445.1,161.5L1446.6,136.9L1448.1,204.5L1449.6,217.7L1451.1,211.9L1452.6,223.2L1454.1,243.3L1455.6,247.5L1457.1,237.7L1458.6,262.8L1460.1,308.9L1461.6,301.6L1463.1,241.8L1464.6,307.9L1466.1,299.9L1467.6,309.3L1469.1,314.8L1470.6,312.6L1472.1,290.1L1473.6,321.6L1475.1,338.9L1476.6,331.8L1478.1,326.5L1479.6,385.0L1481.1,315.3L1482.6,391.0L1484.1,364.6L1485.6,349.9L1487.1,371.4L1488.6,376.0L1490.1,396.7L1491.6,425.5L1493.1,391.4L1494.6,377.3L1496.1,435.6L1497.6,451.1L1499.1,459.8L1500.6,465.1L1502.1,472.1L1503.6,462.8L1505.1,488.3L1506.6,466.7L1508.1,496.4L1509.6,504.9L1511.1,497.0L1512.6,493.5L1514.1,500.5L1515.6,497.7L1517.1,506.1L1518.6,510.2L1520.1,509.7L1520.1,526.4 Z" fill="#ff7272" stroke="#ff0000" stroke-width="1.70" stroke-linejoin="miter" stroke-miterlimit="2"/>
</g>
<line x1="1115.9" y1="29.8" x2="1115.9" y2="526.4" stroke="#ff0000" stroke-width="2.20"/>
<rect x="1520.8" y="513.5" width="2.4" height="12.5" fill="#cc0000"/>
<line x1="1113.4" y1="29.8" x2="1525.2" y2="29.8" stroke="#111" stroke-width="2.10"/>
<line x1="1113.6" y1="29.8" x2="1113.6" y2="526.4" stroke="#111" stroke-width="1.60"/>
<line x1="1095.2" y1="526.4" x2="1524.2" y2="526.4" stroke="#111" stroke-width="2.10"/>
<line x1="1524.2" y1="29.8" x2="1524.2" y2="527.4" stroke="#111" stroke-width="2.00"/>
<line x1="1520.4" y1="29.8" x2="1520.4" y2="526.4" stroke="#111" stroke-width="1.90"/>
<line x1="1214.2" y1="29.8" x2="1214.2" y2="526.4" stroke="#111" stroke-width="2.00"/>
<line x1="1214.2" y1="138.9" x2="1520.4" y2="138.9" stroke="#111" stroke-width="2.00"/>
<line x1="1095.3" y1="526.4" x2="1114.2" y2="526.4" stroke="#111" stroke-width="1.90"/>
<line x1="1104.7" y1="507.6" x2="1114.2" y2="507.6" stroke="#111" stroke-width="1.90"/>
<line x1="1104.7" y1="488.7" x2="1114.2" y2="488.7" stroke="#111" stroke-width="1.90"/>
<line x1="1104.7" y1="469.9" x2="1114.2" y2="469.9" stroke="#111" stroke-width="1.90"/>
<line x1="1104.7" y1="451.1" x2="1114.2" y2="451.1" stroke="#111" stroke-width="1.90"/>
<line x1="1095.3" y1="432.2" x2="1114.2" y2="432.2" stroke="#111" stroke-width="1.90"/>
<line x1="1104.7" y1="413.4" x2="1114.2" y2="413.4" stroke="#111" stroke-width="1.90"/>
<line x1="1104.7" y1="394.6" x2="1114.2" y2="394.6" stroke="#111" stroke-width="1.90"/>
<line x1="1104.7" y1="375.8" x2="1114.2" y2="375.8" stroke="#111" stroke-width="1.90"/>
<line x1="1104.7" y1="356.9" x2="1114.2" y2="356.9" stroke="#111" stroke-width="1.90"/>
<line x1="1095.3" y1="338.1" x2="1114.2" y2="338.1" stroke="#111" stroke-width="1.90"/>
<line x1="1104.7" y1="319.3" x2="1114.2" y2="319.3" stroke="#111" stroke-width="1.90"/>
<line x1="1104.7" y1="300.4" x2="1114.2" y2="300.4" stroke="#111" stroke-width="1.90"/>
<line x1="1104.7" y1="281.6" x2="1114.2" y2="281.6" stroke="#111" stroke-width="1.90"/>
<line x1="1104.7" y1="262.8" x2="1114.2" y2="262.8" stroke="#111" stroke-width="1.90"/>
<line x1="1095.3" y1="243.9" x2="1114.2" y2="243.9" stroke="#111" stroke-width="1.90"/>
<line x1="1104.7" y1="225.1" x2="1114.2" y2="225.1" stroke="#111" stroke-width="1.90"/>
<line x1="1104.7" y1="206.3" x2="1114.2" y2="206.3" stroke="#111" stroke-width="1.90"/>
<line x1="1104.7" y1="187.5" x2="1114.2" y2="187.5" stroke="#111" stroke-width="1.90"/>
<line x1="1104.7" y1="168.6" x2="1114.2" y2="168.6" stroke="#111" stroke-width="1.90"/>
<line x1="1095.3" y1="149.8" x2="1114.2" y2="149.8" stroke="#111" stroke-width="1.90"/>
<line x1="1104.7" y1="131.0" x2="1114.2" y2="131.0" stroke="#111" stroke-width="1.90"/>
<line x1="1104.7" y1="112.1" x2="1114.2" y2="112.1" stroke="#111" stroke-width="1.90"/>
<line x1="1104.7" y1="93.3" x2="1114.2" y2="93.3" stroke="#111" stroke-width="1.90"/>
<line x1="1104.7" y1="74.5" x2="1114.2" y2="74.5" stroke="#111" stroke-width="1.90"/>
<line x1="1095.3" y1="55.7" x2="1114.2" y2="55.7" stroke="#111" stroke-width="1.90"/>
<line x1="1104.7" y1="36.8" x2="1114.2" y2="36.8" stroke="#111" stroke-width="1.90"/>
<text x="1097.0" y="55.6" font-size="18.0" font-weight="normal" text-anchor="middle" fill="#111" textLength="27.9" lengthAdjust="spacingAndGlyphs" transform="rotate(-90 1097.0 55.6)" stroke="#111" stroke-width="0.45">125</text>
<text x="1097.0" y="149.8" font-size="18.0" font-weight="normal" text-anchor="middle" fill="#111" textLength="27.9" lengthAdjust="spacingAndGlyphs" transform="rotate(-90 1097.0 149.8)" stroke="#111" stroke-width="0.45">100</text>
<text x="1097.0" y="243.9" font-size="18.0" font-weight="normal" text-anchor="middle" fill="#111" textLength="18.6" lengthAdjust="spacingAndGlyphs" transform="rotate(-90 1097.0 243.9)" stroke="#111" stroke-width="0.45">75</text>
<text x="1097.0" y="338.1" font-size="18.0" font-weight="normal" text-anchor="middle" fill="#111" textLength="18.6" lengthAdjust="spacingAndGlyphs" transform="rotate(-90 1097.0 338.1)" stroke="#111" stroke-width="0.45">50</text>
<text x="1097.0" y="432.2" font-size="18.0" font-weight="normal" text-anchor="middle" fill="#111" textLength="18.6" lengthAdjust="spacingAndGlyphs" transform="rotate(-90 1097.0 432.2)" stroke="#111" stroke-width="0.45">25</text>
<text x="1097.0" y="526.4" font-size="18.0" font-weight="normal" text-anchor="middle" fill="#111" textLength="9.3" lengthAdjust="spacingAndGlyphs" transform="rotate(-90 1097.0 526.4)" stroke="#111" stroke-width="0.45">0</text>
<line x1="1118.5" y1="526.4" x2="1118.5" y2="537.4" stroke="#111" stroke-width="1.90"/>
<line x1="1131.2" y1="526.4" x2="1131.2" y2="537.4" stroke="#111" stroke-width="1.90"/>
<line x1="1141.1" y1="526.4" x2="1141.1" y2="537.4" stroke="#111" stroke-width="1.90"/>
<line x1="1149.2" y1="526.4" x2="1149.2" y2="537.4" stroke="#111" stroke-width="1.90"/>
<line x1="1156.1" y1="526.4" x2="1156.1" y2="537.4" stroke="#111" stroke-width="1.90"/>
<line x1="1162.0" y1="526.4" x2="1162.0" y2="537.4" stroke="#111" stroke-width="1.90"/>
<line x1="1167.2" y1="526.4" x2="1167.2" y2="537.4" stroke="#111" stroke-width="1.90"/>
<line x1="1171.9" y1="526.4" x2="1171.9" y2="545.4" stroke="#111" stroke-width="1.90"/>
<line x1="1202.7" y1="526.4" x2="1202.7" y2="537.4" stroke="#111" stroke-width="1.90"/>
<line x1="1220.7" y1="526.4" x2="1220.7" y2="537.4" stroke="#111" stroke-width="1.90"/>
<line x1="1233.4" y1="526.4" x2="1233.4" y2="537.4" stroke="#111" stroke-width="1.90"/>
<line x1="1243.3" y1="526.4" x2="1243.3" y2="537.4" stroke="#111" stroke-width="1.90"/>
<line x1="1251.4" y1="526.4" x2="1251.4" y2="537.4" stroke="#111" stroke-width="1.90"/>
<line x1="1258.3" y1="526.4" x2="1258.3" y2="537.4" stroke="#111" stroke-width="1.90"/>
<line x1="1264.2" y1="526.4" x2="1264.2" y2="537.4" stroke="#111" stroke-width="1.90"/>
<line x1="1269.4" y1="526.4" x2="1269.4" y2="537.4" stroke="#111" stroke-width="1.90"/>
<line x1="1274.1" y1="526.4" x2="1274.1" y2="545.4" stroke="#111" stroke-width="1.90"/>
<line x1="1304.9" y1="526.4" x2="1304.9" y2="537.4" stroke="#111" stroke-width="1.90"/>
<line x1="1322.9" y1="526.4" x2="1322.9" y2="537.4" stroke="#111" stroke-width="1.90"/>
<line x1="1335.6" y1="526.4" x2="1335.6" y2="537.4" stroke="#111" stroke-width="1.90"/>
<line x1="1345.5" y1="526.4" x2="1345.5" y2="537.4" stroke="#111" stroke-width="1.90"/>
<line x1="1353.6" y1="526.4" x2="1353.6" y2="537.4" stroke="#111" stroke-width="1.90"/>
<line x1="1360.5" y1="526.4" x2="1360.5" y2="537.4" stroke="#111" stroke-width="1.90"/>
<line x1="1366.4" y1="526.4" x2="1366.4" y2="537.4" stroke="#111" stroke-width="1.90"/>
<line x1="1371.6" y1="526.4" x2="1371.6" y2="537.4" stroke="#111" stroke-width="1.90"/>
<line x1="1376.3" y1="526.4" x2="1376.3" y2="545.4" stroke="#111" stroke-width="1.90"/>
<line x1="1407.1" y1="526.4" x2="1407.1" y2="537.4" stroke="#111" stroke-width="1.90"/>
<line x1="1425.1" y1="526.4" x2="1425.1" y2="537.4" stroke="#111" stroke-width="1.90"/>
<line x1="1437.8" y1="526.4" x2="1437.8" y2="537.4" stroke="#111" stroke-width="1.90"/>
<line x1="1447.7" y1="526.4" x2="1447.7" y2="537.4" stroke="#111" stroke-width="1.90"/>
<line x1="1455.8" y1="526.4" x2="1455.8" y2="537.4" stroke="#111" stroke-width="1.90"/>
<line x1="1462.7" y1="526.4" x2="1462.7" y2="537.4" stroke="#111" stroke-width="1.90"/>
<line x1="1468.6" y1="526.4" x2="1468.6" y2="537.4" stroke="#111" stroke-width="1.90"/>
<line x1="1473.8" y1="526.4" x2="1473.8" y2="537.4" stroke="#111" stroke-width="1.90"/>
<line x1="1478.5" y1="526.4" x2="1478.5" y2="545.4" stroke="#111" stroke-width="1.90"/>
<line x1="1509.3" y1="526.4" x2="1509.3" y2="537.4" stroke="#111" stroke-width="1.90"/>
<text x="1159.1" y="565.6" font-size="18.2" font-weight="normal" text-anchor="start" fill="#111" textLength="16.2" lengthAdjust="spacingAndGlyphs" stroke="#111" stroke-width="0.45">10</text>
<text x="1176.5" y="554.6" font-size="16.6" font-weight="normal" text-anchor="start" fill="#111" textLength="8.4" lengthAdjust="spacingAndGlyphs" stroke="#111" stroke-width="0.45">2</text>
<text x="1261.3" y="565.6" font-size="18.2" font-weight="normal" text-anchor="start" fill="#111" textLength="16.2" lengthAdjust="spacingAndGlyphs" stroke="#111" stroke-width="0.45">10</text>
<text x="1278.7" y="554.6" font-size="16.6" font-weight="normal" text-anchor="start" fill="#111" textLength="8.4" lengthAdjust="spacingAndGlyphs" stroke="#111" stroke-width="0.45">3</text>
<text x="1363.5" y="565.6" font-size="18.2" font-weight="normal" text-anchor="start" fill="#111" textLength="16.2" lengthAdjust="spacingAndGlyphs" stroke="#111" stroke-width="0.45">10</text>
<text x="1380.9" y="554.6" font-size="16.6" font-weight="normal" text-anchor="start" fill="#111" textLength="8.4" lengthAdjust="spacingAndGlyphs" stroke="#111" stroke-width="0.45">4</text>
<text x="1465.7" y="565.6" font-size="18.2" font-weight="normal" text-anchor="start" fill="#111" textLength="16.2" lengthAdjust="spacingAndGlyphs" stroke="#111" stroke-width="0.45">10</text>
<text x="1483.1" y="554.6" font-size="16.6" font-weight="normal" text-anchor="start" fill="#111" textLength="8.4" lengthAdjust="spacingAndGlyphs" stroke="#111" stroke-width="0.45">5</text>
<text x="1354.3" y="288.0" font-size="22.6" font-weight="normal" text-anchor="start" fill="#222" textLength="21.6" lengthAdjust="spacingAndGlyphs" >P2</text>
<text x="1228.7" y="61.6" font-size="26.5" font-weight="bold" text-anchor="start" fill="#000" textLength="54.0" lengthAdjust="spacingAndGlyphs" >(5ul)</text>
<text x="1227.7" y="97.6" font-size="26.5" font-weight="bold" text-anchor="start" fill="#000" textLength="89.5" lengthAdjust="spacingAndGlyphs" >86.14%</text>
<text x="1321.3" y="97.6" font-size="28.0" font-weight="bold" text-anchor="start" fill="#000" textLength="16.5" lengthAdjust="spacingAndGlyphs" >±</text>
<text x="1342.2" y="97.6" font-size="26.5" font-weight="bold" text-anchor="start" fill="#000" textLength="51.5" lengthAdjust="spacingAndGlyphs" >1.02</text>
<clipPath id="c4"><rect x="61.7" y="610.2" width="407.7" height="499.5"/></clipPath>
<g clip-path="url(#c4)">
<path d="M62.2,1108.7L62.2,1077.0L63.6,1099.7L64.9,1105.0L66.2,1108.7L67.6,1108.7L69.0,1108.7L70.3,1104.9L71.7,1107.2L73.0,1107.3L74.4,1106.5L75.7,1108.5L77.1,1107.4L78.4,1108.7L79.8,1106.3L81.1,1108.4L82.5,1106.6L83.8,1105.6L85.2,1107.2L86.5,1105.9L87.9,1108.7L89.2,1108.6L90.6,1106.6L91.9,1107.1L93.3,1108.7L94.6,1107.3L96.0,1104.6L97.3,1107.5L98.7,1106.2L100.0,1106.8L101.4,1105.7L102.7,1105.3L104.1,1104.8L105.4,1104.7L106.8,1103.9L108.1,1104.4L109.5,1104.6L110.8,1105.7L112.2,1108.7L113.5,1105.0L114.9,1105.6L116.2,1105.2L117.6,1107.3L118.9,1101.6L120.3,1107.1L121.6,1100.1L123.0,1100.1L124.3,1096.5L125.7,1093.3L127.0,1087.5L128.4,1087.3L129.7,1086.1L131.1,1082.2L132.4,1085.8L133.8,1083.5L135.1,1084.1L136.5,1078.8L137.8,1073.2L139.2,1077.1L140.5,1075.4L141.9,1077.2L143.2,1063.5L144.6,1070.0L145.9,1065.1L147.3,1067.4L148.6,1061.7L150.0,1071.7L151.3,1052.6L152.7,1049.3L154.0,1025.5L155.4,1002.3L156.7,982.2L158.1,956.4L159.4,928.8L160.8,881.5L162.1,864.9L163.5,794.8L164.8,798.0L166.2,753.2L167.5,724.2L168.9,703.4L170.2,651.6L171.6,656.8L172.9,605.2L174.3,652.5L175.6,728.7L177.0,766.0L178.3,801.2L179.7,781.4L181.0,810.5L182.4,815.8L183.7,846.9L185.1,821.2L186.4,881.3L187.8,859.4L189.1,875.1L190.5,881.0L191.8,886.8L193.2,891.4L194.5,913.7L195.9,944.1L197.2,915.9L198.6,952.9L199.9,949.5L201.3,974.3L202.6,965.7L204.0,975.5L205.3,980.5L206.7,968.8L208.0,1003.3L209.4,984.1L210.7,983.3L212.1,982.7L213.4,994.2L214.8,1008.9L216.1,989.9L217.5,1005.9L218.8,991.0L220.2,995.0L221.5,1000.4L222.9,988.2L224.2,993.3L225.6,1014.6L226.9,1024.7L228.3,1003.4L229.6,1001.9L231.0,1031.6L232.3,1028.6L233.7,1039.0L235.0,1037.6L236.4,1011.2L237.7,1031.1L239.1,1034.9L240.4,1035.7L241.8,1047.2L243.1,1036.7L244.5,1027.3L245.8,1031.4L247.2,1046.6L248.5,1050.4L249.9,1040.6L251.2,1046.2L252.6,1048.4L253.9,1053.7L255.3,1044.0L256.6,1050.0L258.0,1051.6L259.3,1052.0L260.7,1050.4L262.0,1060.2L263.4,1061.2L264.7,1071.4L266.1,1053.7L267.4,1044.4L268.8,1050.3L270.1,1057.3L271.5,1064.5L272.8,1060.1L274.2,1062.1L275.5,1056.2L276.9,1060.3L278.2,1056.3L279.6,1061.8L280.9,1067.9L282.3,1049.4L283.6,1068.3L285.0,1068.0L286.3,1066.3L287.7,1066.9L289.0,1060.9L290.4,1065.0L291.7,1071.5L293.1,1067.9L294.4,1060.4L295.8,1071.9L297.1,1074.3L298.5,1072.6L299.8,1081.3L301.2,1063.7L302.5,1070.7L303.9,1081.6L305.2,1076.8L306.6,1090.0L307.9,1079.0L309.3,1081.1L310.6,1079.9L312.0,1085.2L313.3,1077.8L314.7,1087.5L316.0,1078.5L317.4,1086.2L318.7,1093.0L320.1,1087.6L321.4,1078.3L322.8,1093.3L324.1,1091.4L325.5,1086.1L326.8,1092.0L328.2,1090.6L329.5,1092.8L330.9,1088.1L332.2,1092.4L333.6,1087.9L334.9,1099.0L336.3,1089.2L337.6,1092.4L339.0,1095.4L340.3,1095.7L341.7,1099.3L343.0,1101.1L344.4,1093.7L345.7,1099.6L347.1,1103.0L348.4,1099.0L349.8,1100.0L351.1,1099.0L352.5,1102.8L353.8,1104.2L355.2,1104.9L356.5,1105.1L357.9,1101.4L359.2,1102.2L360.6,1101.8L361.9,1103.0L363.3,1105.3L364.6,1100.0L366.0,1105.1L367.3,1108.3L368.7,1103.5L370.0,1105.9L371.4,1105.9L372.7,1105.9L374.1,1105.1L375.4,1107.8L376.8,1106.7L378.1,1106.1L379.5,1104.2L380.8,1107.7L382.2,1107.4L383.5,1104.9L384.9,1105.9L386.2,1106.6L387.6,1108.0L388.9,1105.7L390.3,1107.3L391.6,1107.3L393.0,1107.4L394.3,1105.8L395.7,1108.7L397.0,1108.7L398.4,1108.7L399.7,1107.3L401.1,1107.3L402.4,1108.7L403.8,1108.7L405.1,1107.3L406.5,1108.7L407.8,1108.7L409.2,1108.7L410.5,1108.7L411.9,1108.7L413.2,1108.7L414.6,1108.7L415.9,1108.7L417.3,1108.7L418.6,1108.7L420.0,1108.7L421.3,1108.7L422.7,1108.7L424.0,1108.7L425.4,1108.7L426.7,1108.7L428.1,1108.7L429.4,1108.7L430.8,1108.7L430.8,1108.7 Z" fill="#ff7272" stroke="#ff0000" stroke-width="1.70" stroke-linejoin="miter" stroke-miterlimit="2"/>
</g>
<line x1="63.2" y1="1077.0" x2="63.2" y2="1108.7" stroke="#ff0000" stroke-width="2.20"/>
<line x1="61.7" y1="610.2" x2="470.4" y2="610.2" stroke="#2a2a2a" stroke-width="2.10"/>
<line x1="61.7" y1="610.2" x2="61.7" y2="1108.7" stroke="#2a2a2a" stroke-width="2.00"/>
<line x1="44.7" y1="1108.7" x2="469.4" y2="1108.7" stroke="#2a2a2a" stroke-width="2.10"/>
<line x1="469.4" y1="610.2" x2="469.4" y2="1109.7" stroke="#2a2a2a" stroke-width="2.10"/>
<line x1="465.9" y1="610.2" x2="465.9" y2="1108.7" stroke="#8a8a8a" stroke-width="1.80"/>
<line x1="178.3" y1="610.2" x2="178.3" y2="1108.7" stroke="#7d7d7d" stroke-width="1.90"/>
<line x1="178.3" y1="965.2" x2="465.9" y2="965.2" stroke="#7d7d7d" stroke-width="1.90"/>
<line x1="45.5" y1="1108.7" x2="61.7" y2="1108.7" stroke="#2a2a2a" stroke-width="1.90"/>
<line x1="53.6" y1="1094.4" x2="61.7" y2="1094.4" stroke="#2a2a2a" stroke-width="1.90"/>
<line x1="53.6" y1="1080.0" x2="61.7" y2="1080.0" stroke="#2a2a2a" stroke-width="1.90"/>
<line x1="53.6" y1="1065.7" x2="61.7" y2="1065.7" stroke="#2a2a2a" stroke-width="1.90"/>
<line x1="53.6" y1="1051.3" x2="61.7" y2="1051.3" stroke="#2a2a2a" stroke-width="1.90"/>
<line x1="45.5" y1="1037.0" x2="61.7" y2="1037.0" stroke="#2a2a2a" stroke-width="1.90"/>
<line x1="53.6" y1="1022.7" x2="61.7" y2="1022.7" stroke="#2a2a2a" stroke-width="1.90"/>
<line x1="53.6" y1="1008.3" x2="61.7" y2="1008.3" stroke="#2a2a2a" stroke-width="1.90"/>
<line x1="53.6" y1="994.0" x2="61.7" y2="994.0" stroke="#2a2a2a" stroke-width="1.90"/>
<line x1="53.6" y1="979.6" x2="61.7" y2="979.6" stroke="#2a2a2a" stroke-width="1.90"/>
<line x1="45.5" y1="965.3" x2="61.7" y2="965.3" stroke="#2a2a2a" stroke-width="1.90"/>
<line x1="53.6" y1="951.0" x2="61.7" y2="951.0" stroke="#2a2a2a" stroke-width="1.90"/>
<line x1="53.6" y1="936.6" x2="61.7" y2="936.6" stroke="#2a2a2a" stroke-width="1.90"/>
<line x1="53.6" y1="922.3" x2="61.7" y2="922.3" stroke="#2a2a2a" stroke-width="1.90"/>
<line x1="53.6" y1="907.9" x2="61.7" y2="907.9" stroke="#2a2a2a" stroke-width="1.90"/>
<line x1="45.5" y1="893.6" x2="61.7" y2="893.6" stroke="#2a2a2a" stroke-width="1.90"/>
<line x1="53.6" y1="879.3" x2="61.7" y2="879.3" stroke="#2a2a2a" stroke-width="1.90"/>
<line x1="53.6" y1="864.9" x2="61.7" y2="864.9" stroke="#2a2a2a" stroke-width="1.90"/>
<line x1="53.6" y1="850.6" x2="61.7" y2="850.6" stroke="#2a2a2a" stroke-width="1.90"/>
<line x1="53.6" y1="836.2" x2="61.7" y2="836.2" stroke="#2a2a2a" stroke-width="1.90"/>
<line x1="45.5" y1="821.9" x2="61.7" y2="821.9" stroke="#2a2a2a" stroke-width="1.90"/>
<line x1="53.6" y1="807.6" x2="61.7" y2="807.6" stroke="#2a2a2a" stroke-width="1.90"/>
<line x1="53.6" y1="793.2" x2="61.7" y2="793.2" stroke="#2a2a2a" stroke-width="1.90"/>
<line x1="53.6" y1="778.9" x2="61.7" y2="778.9" stroke="#2a2a2a" stroke-width="1.90"/>
<line x1="53.6" y1="764.5" x2="61.7" y2="764.5" stroke="#2a2a2a" stroke-width="1.90"/>
<line x1="45.5" y1="750.2" x2="61.7" y2="750.2" stroke="#2a2a2a" stroke-width="1.90"/>
<line x1="53.6" y1="735.9" x2="61.7" y2="735.9" stroke="#2a2a2a" stroke-width="1.90"/>
<line x1="53.6" y1="721.5" x2="61.7" y2="721.5" stroke="#2a2a2a" stroke-width="1.90"/>
<line x1="53.6" y1="707.2" x2="61.7" y2="707.2" stroke="#2a2a2a" stroke-width="1.90"/>
<line x1="53.6" y1="692.8" x2="61.7" y2="692.8" stroke="#2a2a2a" stroke-width="1.90"/>
<line x1="45.5" y1="678.5" x2="61.7" y2="678.5" stroke="#2a2a2a" stroke-width="1.90"/>
<line x1="53.6" y1="664.2" x2="61.7" y2="664.2" stroke="#2a2a2a" stroke-width="1.90"/>
<line x1="53.6" y1="649.8" x2="61.7" y2="649.8" stroke="#2a2a2a" stroke-width="1.90"/>
<line x1="53.6" y1="635.5" x2="61.7" y2="635.5" stroke="#2a2a2a" stroke-width="1.90"/>
<line x1="53.6" y1="621.1" x2="61.7" y2="621.1" stroke="#2a2a2a" stroke-width="1.90"/>
<text x="44.5" y="678.5" font-size="18.0" font-weight="normal" text-anchor="middle" fill="#111" textLength="27.9" lengthAdjust="spacingAndGlyphs" transform="rotate(-90 44.5 678.5)" stroke="#111" stroke-width="0.45">300</text>
<text x="44.5" y="750.2" font-size="18.0" font-weight="normal" text-anchor="middle" fill="#111" textLength="27.9" lengthAdjust="spacingAndGlyphs" transform="rotate(-90 44.5 750.2)" stroke="#111" stroke-width="0.45">250</text>
<text x="44.5" y="821.9" font-size="18.0" font-weight="normal" text-anchor="middle" fill="#111" textLength="27.9" lengthAdjust="spacingAndGlyphs" transform="rotate(-90 44.5 821.9)" stroke="#111" stroke-width="0.45">200</text>
<text x="44.5" y="893.6" font-size="18.0" font-weight="normal" text-anchor="middle" fill="#111" textLength="27.9" lengthAdjust="spacingAndGlyphs" transform="rotate(-90 44.5 893.6)" stroke="#111" stroke-width="0.45">150</text>
<text x="44.5" y="965.3" font-size="18.0" font-weight="normal" text-anchor="middle" fill="#111" textLength="27.9" lengthAdjust="spacingAndGlyphs" transform="rotate(-90 44.5 965.3)" stroke="#111" stroke-width="0.45">100</text>
<text x="44.5" y="1037.0" font-size="18.0" font-weight="normal" text-anchor="middle" fill="#111" textLength="18.6" lengthAdjust="spacingAndGlyphs" transform="rotate(-90 44.5 1037.0)" stroke="#111" stroke-width="0.45">50</text>
<text x="44.5" y="1108.7" font-size="18.0" font-weight="normal" text-anchor="middle" fill="#111" textLength="9.3" lengthAdjust="spacingAndGlyphs" transform="rotate(-90 44.5 1108.7)" stroke="#111" stroke-width="0.45">0</text>
<line x1="61.5" y1="1108.7" x2="61.5" y2="1127.7" stroke="#2a2a2a" stroke-width="1.90"/>
<line x1="76.8" y1="1108.7" x2="76.8" y2="1119.7" stroke="#2a2a2a" stroke-width="1.90"/>
<line x1="111.7" y1="1108.7" x2="111.7" y2="1127.7" stroke="#2a2a2a" stroke-width="1.90"/>
<line x1="116.7" y1="1108.7" x2="116.7" y2="1119.7" stroke="#2a2a2a" stroke-width="1.90"/>
<line x1="119.5" y1="1108.7" x2="119.5" y2="1119.7" stroke="#2a2a2a" stroke-width="1.90"/>
<line x1="122.0" y1="1108.7" x2="122.0" y2="1119.7" stroke="#2a2a2a" stroke-width="1.90"/>
<line x1="126.0" y1="1108.7" x2="126.0" y2="1119.7" stroke="#2a2a2a" stroke-width="1.90"/>
<line x1="129.9" y1="1108.7" x2="129.9" y2="1119.7" stroke="#2a2a2a" stroke-width="1.90"/>
<line x1="133.9" y1="1108.7" x2="133.9" y2="1119.7" stroke="#2a2a2a" stroke-width="1.90"/>
<line x1="138.2" y1="1108.7" x2="138.2" y2="1119.7" stroke="#2a2a2a" stroke-width="1.90"/>
<line x1="142.5" y1="1108.7" x2="142.5" y2="1119.7" stroke="#2a2a2a" stroke-width="1.90"/>
<line x1="146.8" y1="1108.7" x2="146.8" y2="1119.7" stroke="#2a2a2a" stroke-width="1.90"/>
<line x1="150.4" y1="1108.7" x2="150.4" y2="1119.7" stroke="#2a2a2a" stroke-width="1.90"/>
<line x1="154.4" y1="1108.7" x2="154.4" y2="1119.7" stroke="#2a2a2a" stroke-width="1.90"/>
<line x1="159.7" y1="1108.7" x2="159.7" y2="1127.7" stroke="#2a2a2a" stroke-width="1.90"/>
<line x1="164.4" y1="1108.7" x2="164.4" y2="1127.7" stroke="#2a2a2a" stroke-width="3.60"/>
<line x1="170.7" y1="1108.7" x2="170.7" y2="1127.7" stroke="#2a2a2a" stroke-width="1.90"/>
<line x1="176.9" y1="1108.7" x2="176.9" y2="1119.7" stroke="#2a2a2a" stroke-width="1.90"/>
<line x1="181.9" y1="1108.7" x2="181.9" y2="1119.7" stroke="#2a2a2a" stroke-width="1.90"/>
<line x1="186.2" y1="1108.7" x2="186.2" y2="1119.7" stroke="#2a2a2a" stroke-width="1.90"/>
<line x1="190.5" y1="1108.7" x2="190.5" y2="1119.7" stroke="#2a2a2a" stroke-width="1.90"/>
<line x1="194.8" y1="1108.7" x2="194.8" y2="1119.7" stroke="#2a2a2a" stroke-width="1.90"/>
<line x1="198.7" y1="1108.7" x2="198.7" y2="1119.7" stroke="#2a2a2a" stroke-width="1.90"/>
<line x1="202.7" y1="1108.7" x2="202.7" y2="1119.7" stroke="#2a2a2a" stroke-width="1.90"/>
<line x1="206.3" y1="1108.7" x2="206.3" y2="1119.7" stroke="#2a2a2a" stroke-width="1.90"/>
<line x1="209.8" y1="1108.7" x2="209.8" y2="1119.7" stroke="#2a2a2a" stroke-width="1.90"/>
<line x1="212.7" y1="1108.7" x2="212.7" y2="1119.7" stroke="#2a2a2a" stroke-width="1.90"/>
<line x1="217.7" y1="1108.7" x2="217.7" y2="1127.7" stroke="#2a2a2a" stroke-width="1.90"/>
<line x1="251.4" y1="1108.7" x2="251.4" y2="1119.7" stroke="#2a2a2a" stroke-width="1.90"/>
<line x1="274.4" y1="1108.7" x2="274.4" y2="1119.7" stroke="#2a2a2a" stroke-width="1.90"/>
<line x1="289.0" y1="1108.7" x2="289.0" y2="1119.7" stroke="#2a2a2a" stroke-width="1.90"/>
<line x1="299.8" y1="1108.7" x2="299.8" y2="1119.7" stroke="#2a2a2a" stroke-width="1.90"/>
<line x1="308.9" y1="1108.7" x2="308.9" y2="1119.7" stroke="#2a2a2a" stroke-width="1.90"/>
<line x1="316.7" y1="1108.7" x2="316.7" y2="1119.7" stroke="#2a2a2a" stroke-width="1.90"/>
<line x1="322.8" y1="1108.7" x2="322.8" y2="1119.7" stroke="#2a2a2a" stroke-width="1.90"/>
<line x1="328.6" y1="1108.7" x2="328.6" y2="1119.7" stroke="#2a2a2a" stroke-width="1.90"/>
<line x1="333.7" y1="1108.7" x2="333.7" y2="1127.7" stroke="#2a2a2a" stroke-width="1.90"/>
<line x1="364.2" y1="1108.7" x2="364.2" y2="1119.7" stroke="#2a2a2a" stroke-width="1.90"/>
<line x1="380.4" y1="1108.7" x2="380.4" y2="1119.7" stroke="#2a2a2a" stroke-width="1.90"/>
<line x1="393.0" y1="1108.7" x2="393.0" y2="1119.7" stroke="#2a2a2a" stroke-width="1.90"/>
<line x1="402.1" y1="1108.7" x2="402.1" y2="1119.7" stroke="#2a2a2a" stroke-width="1.90"/>
<line x1="409.2" y1="1108.7" x2="409.2" y2="1119.7" stroke="#2a2a2a" stroke-width="1.90"/>
<line x1="416.0" y1="1108.7" x2="416.0" y2="1119.7" stroke="#2a2a2a" stroke-width="1.90"/>
<line x1="421.1" y1="1108.7" x2="421.1" y2="1119.7" stroke="#2a2a2a" stroke-width="1.90"/>
<line x1="425.1" y1="1108.7" x2="425.1" y2="1119.7" stroke="#2a2a2a" stroke-width="1.90"/>
<line x1="429.5" y1="1108.7" x2="429.5" y2="1127.7" stroke="#2a2a2a" stroke-width="1.90"/>
<line x1="459.0" y1="1108.7" x2="459.0" y2="1119.7" stroke="#2a2a2a" stroke-width="1.90"/>
<clipPath id="c4x"><rect x="60" y="1115" width="420" height="31.2"/></clipPath><g clip-path="url(#c4x)">
<text x="92.2" y="1147.2" font-size="18.0" font-weight="normal" text-anchor="start" fill="#111" textLength="5.5" lengthAdjust="spacingAndGlyphs" stroke="#111" stroke-width="0.45">-</text>
<text x="98.9" y="1147.2" font-size="18.2" font-weight="normal" text-anchor="start" fill="#111" textLength="16.2" lengthAdjust="spacingAndGlyphs" stroke="#111" stroke-width="0.45">10</text>
<text x="116.3" y="1136.2" font-size="16.6" font-weight="normal" text-anchor="start" fill="#111" textLength="8.4" lengthAdjust="spacingAndGlyphs" stroke="#111" stroke-width="0.45">3</text>
<text x="159.3" y="1147.2" font-size="18.2" font-weight="normal" text-anchor="start" fill="#111" textLength="8.0" lengthAdjust="spacingAndGlyphs" stroke="#111" stroke-width="0.45">0</text>
<text x="204.9" y="1147.2" font-size="18.2" font-weight="normal" text-anchor="start" fill="#111" textLength="16.2" lengthAdjust="spacingAndGlyphs" stroke="#111" stroke-width="0.45">10</text>
<text x="222.3" y="1136.2" font-size="16.6" font-weight="normal" text-anchor="start" fill="#111" textLength="8.4" lengthAdjust="spacingAndGlyphs" stroke="#111" stroke-width="0.45">3</text>
<text x="320.9" y="1147.2" font-size="18.2" font-weight="normal" text-anchor="start" fill="#111" textLength="16.2" lengthAdjust="spacingAndGlyphs" stroke="#111" stroke-width="0.45">10</text>
<text x="338.3" y="1136.2" font-size="16.6" font-weight="normal" text-anchor="start" fill="#111" textLength="8.4" lengthAdjust="spacingAndGlyphs" stroke="#111" stroke-width="0.45">4</text>
<text x="416.7" y="1147.2" font-size="18.2" font-weight="normal" text-anchor="start" fill="#111" textLength="16.2" lengthAdjust="spacingAndGlyphs" stroke="#111" stroke-width="0.45">10</text>
<text x="434.1" y="1136.2" font-size="16.6" font-weight="normal" text-anchor="start" fill="#111" textLength="8.4" lengthAdjust="spacingAndGlyphs" stroke="#111" stroke-width="0.45">5</text>
</g>
<text x="308.0" y="870.8" font-size="22.6" font-weight="normal" text-anchor="start" fill="#222" textLength="21.6" lengthAdjust="spacingAndGlyphs" >P2</text>
<text x="284.7" y="644.0" font-size="26.5" font-weight="bold" text-anchor="start" fill="#000" textLength="78.5" lengthAdjust="spacingAndGlyphs" >(7.5ul)</text>
<text x="283.7" y="679.4" font-size="26.5" font-weight="bold" text-anchor="start" fill="#000" textLength="89.5" lengthAdjust="spacingAndGlyphs" >56.90%</text>
<text x="377.3" y="679.4" font-size="28.0" font-weight="bold" text-anchor="start" fill="#000" textLength="16.5" lengthAdjust="spacingAndGlyphs" >±</text>
<text x="398.2" y="679.4" font-size="26.5" font-weight="bold" text-anchor="start" fill="#000" textLength="51.5" lengthAdjust="spacingAndGlyphs" >2.05</text>
<clipPath id="c4b"><rect x="40" y="1145.4" width="50" height="2.4"/></clipPath>
<g clip-path="url(#c4b)">
<text x="43.0" y="1159.0" font-size="17.0" font-weight="normal" text-anchor="start" fill="#333" textLength="38.0" lengthAdjust="spacingAndGlyphs" >-359</text>
</g>
<clipPath id="c5"><rect x="587.4" y="609.0" width="412.0" height="498.6"/></clipPath>
<g clip-path="url(#c5)">
<path d="M589.4,1106.6L589.4,1022.0L590.9,1066.8L592.4,1059.8L593.9,1054.3L595.4,1075.2L596.9,1031.8L598.4,1046.6L599.9,1047.3L601.4,1022.3L602.9,982.3L604.4,997.3L605.9,1019.3L607.4,1005.2L608.9,885.0L610.4,1016.1L611.9,977.7L613.4,1013.3L614.9,1018.6L616.4,960.0L617.9,931.9L619.4,977.0L620.9,942.0L622.4,978.8L623.9,933.2L625.4,988.2L626.9,925.4L628.4,862.0L629.9,968.0L631.4,867.3L632.9,870.8L634.4,870.2L635.9,891.4L637.4,899.4L638.9,883.2L640.4,899.8L641.9,839.1L643.4,860.5L644.9,806.8L646.4,817.4L647.9,822.4L649.4,814.5L650.9,817.6L652.4,815.7L653.9,798.9L655.4,815.5L656.9,802.3L658.4,783.4L659.9,786.6L661.4,750.2L662.9,730.3L664.4,786.1L665.9,761.0L667.4,770.0L668.9,731.1L670.4,793.0L671.9,699.3L673.4,703.0L674.9,778.4L676.4,715.3L677.9,753.0L679.4,771.6L680.9,735.4L682.4,758.3L683.9,740.5L685.4,748.9L686.9,731.4L688.4,750.4L689.9,700.6L691.4,801.2L692.9,713.2L694.4,697.8L695.9,802.9L697.4,759.0L698.9,786.2L700.4,768.2L701.9,732.1L703.4,746.1L704.9,604.0L706.4,762.2L707.9,749.9L709.4,773.1L710.9,718.3L712.4,738.2L713.9,665.0L715.4,778.6L716.9,758.7L718.4,720.9L719.9,722.8L721.4,728.2L722.9,757.9L724.4,673.4L725.9,669.0L727.4,769.1L728.9,750.1L730.4,773.4L731.9,770.4L733.4,789.5L734.9,764.7L736.4,776.0L737.9,775.6L739.4,804.2L740.9,833.6L742.4,876.0L743.9,803.3L745.4,831.6L746.9,842.4L748.4,729.0L749.9,810.5L751.4,843.0L752.9,823.7L754.4,853.8L755.9,861.9L757.4,865.5L758.9,867.0L760.4,886.7L761.9,938.8L763.4,881.7L764.9,883.9L766.4,897.7L767.9,888.6L769.4,935.0L770.9,902.9L772.4,911.3L773.9,943.1L775.4,930.5L776.9,944.2L778.4,936.6L779.9,950.0L781.4,982.7L782.9,853.0L784.4,956.1L785.9,978.2L787.4,939.9L788.9,981.0L790.4,978.8L791.9,999.3L793.4,1009.9L794.9,968.0L796.4,1016.3L797.9,970.0L799.4,1003.8L800.9,996.9L802.4,960.4L803.9,967.4L805.4,964.9L806.9,1020.5L808.4,1020.5L809.9,1016.2L811.4,1019.1L812.9,1045.1L814.4,1026.9L815.9,1058.9L817.4,1066.2L818.9,1057.3L820.4,1063.1L821.9,1084.4L823.4,1076.0L824.9,1090.1L826.4,1065.1L827.9,1066.5L829.4,1061.0L830.9,1073.6L832.4,1079.8L833.9,1091.8L835.4,1078.6L836.9,1081.0L838.4,1066.0L839.9,1072.2L841.4,1093.5L842.9,1086.7L844.4,1075.6L845.9,1083.7L847.4,1103.2L848.9,1084.3L850.4,1091.1L851.9,1106.6L853.4,1093.7L854.9,1099.5L856.4,1102.8L857.9,1072.0L859.4,1101.5L860.9,1091.8L862.4,1094.0L863.9,1095.7L865.4,1095.9L866.9,1077.4L868.4,1095.8L869.9,1087.2L871.4,1098.5L872.9,1092.5L874.4,1094.6L875.9,1102.0L877.4,1066.0L878.9,1089.4L880.4,1095.3L881.9,1090.3L883.4,1093.9L884.9,1089.1L886.4,1104.4L887.9,1092.9L889.4,1100.4L890.9,1104.7L892.4,1102.0L893.9,1098.4L895.4,1101.8L896.9,1099.8L898.4,1090.7L899.9,1100.5L901.4,1106.1L902.9,1104.3L904.4,1104.6L905.9,1101.3L907.4,1095.0L908.9,1100.3L910.4,1093.8L911.9,1098.7L913.4,1097.1L914.9,1097.1L916.4,1106.6L917.9,1101.9L919.4,1101.9L920.9,1101.9L922.4,1106.6L923.9,1097.1L925.4,1106.6L926.9,1101.9L928.4,1106.6L929.9,1101.9L931.4,1106.6L932.9,1101.9L934.4,1101.9L935.9,1106.6L937.4,1106.6L938.9,1106.6L940.4,1106.6L941.9,1106.6L943.4,1101.9L944.9,1106.6L946.4,1106.6L947.9,1106.6L949.4,1106.6L950.9,1106.6L952.4,1106.6L953.9,1106.6L955.4,1106.6L956.9,1106.6L958.4,1106.6L959.9,1106.6L959.9,1106.6 Z" fill="#ff7272" stroke="#ff0000" stroke-width="1.70" stroke-linejoin="miter" stroke-miterlimit="2"/>
</g>
<line x1="589.0" y1="609.0" x2="589.0" y2="1106.6" stroke="#ff0000" stroke-width="2.20"/>
<line x1="586.6" y1="609.0" x2="1000.4" y2="609.0" stroke="#111" stroke-width="2.10"/>
<line x1="586.8" y1="609.0" x2="586.8" y2="1106.6" stroke="#111" stroke-width="1.60"/>
<line x1="569.4" y1="1106.6" x2="999.4" y2="1106.6" stroke="#111" stroke-width="2.10"/>
<line x1="999.4" y1="609.0" x2="999.4" y2="1107.6" stroke="#111" stroke-width="2.00"/>
<line x1="995.9" y1="609.0" x2="995.9" y2="1106.6" stroke="#111" stroke-width="1.90"/>
<line x1="687.9" y1="609.0" x2="687.9" y2="1106.6" stroke="#111" stroke-width="2.10"/>
<line x1="687.9" y1="858.3" x2="995.9" y2="858.3" stroke="#111" stroke-width="2.10"/>
<line x1="570.0" y1="1106.6" x2="587.4" y2="1106.6" stroke="#111" stroke-width="1.90"/>
<line x1="578.2" y1="1082.9" x2="587.4" y2="1082.9" stroke="#111" stroke-width="1.90"/>
<line x1="578.2" y1="1059.2" x2="587.4" y2="1059.2" stroke="#111" stroke-width="1.90"/>
<line x1="578.2" y1="1035.5" x2="587.4" y2="1035.5" stroke="#111" stroke-width="1.90"/>
<line x1="578.2" y1="1011.8" x2="587.4" y2="1011.8" stroke="#111" stroke-width="1.90"/>
<line x1="570.0" y1="988.1" x2="587.4" y2="988.1" stroke="#111" stroke-width="1.90"/>
<line x1="578.2" y1="964.4" x2="587.4" y2="964.4" stroke="#111" stroke-width="1.90"/>
<line x1="578.2" y1="940.7" x2="587.4" y2="940.7" stroke="#111" stroke-width="1.90"/>
<line x1="578.2" y1="917.0" x2="587.4" y2="917.0" stroke="#111" stroke-width="1.90"/>
<line x1="578.2" y1="893.3" x2="587.4" y2="893.3" stroke="#111" stroke-width="1.90"/>
<line x1="570.0" y1="869.6" x2="587.4" y2="869.6" stroke="#111" stroke-width="1.90"/>
<line x1="578.2" y1="845.9" x2="587.4" y2="845.9" stroke="#111" stroke-width="1.90"/>
<line x1="578.2" y1="822.2" x2="587.4" y2="822.2" stroke="#111" stroke-width="1.90"/>
<line x1="578.2" y1="798.5" x2="587.4" y2="798.5" stroke="#111" stroke-width="1.90"/>
<line x1="578.2" y1="774.8" x2="587.4" y2="774.8" stroke="#111" stroke-width="1.90"/>
<line x1="570.0" y1="751.1" x2="587.4" y2="751.1" stroke="#111" stroke-width="1.90"/>
<line x1="578.2" y1="727.4" x2="587.4" y2="727.4" stroke="#111" stroke-width="1.90"/>
<line x1="578.2" y1="703.7" x2="587.4" y2="703.7" stroke="#111" stroke-width="1.90"/>
<line x1="578.2" y1="680.0" x2="587.4" y2="680.0" stroke="#111" stroke-width="1.90"/>
<line x1="578.2" y1="656.3" x2="587.4" y2="656.3" stroke="#111" stroke-width="1.90"/>
<line x1="570.0" y1="632.6" x2="587.4" y2="632.6" stroke="#111" stroke-width="1.90"/>
<line x1="578.2" y1="608.9" x2="587.4" y2="608.9" stroke="#111" stroke-width="1.90"/>
<text x="569.5" y="632.6" font-size="18.0" font-weight="normal" text-anchor="middle" fill="#111" textLength="27.9" lengthAdjust="spacingAndGlyphs" transform="rotate(-90 569.5 632.6)" stroke="#111" stroke-width="0.45">100</text>
<text x="569.5" y="751.1" font-size="18.0" font-weight="normal" text-anchor="middle" fill="#111" textLength="18.6" lengthAdjust="spacingAndGlyphs" transform="rotate(-90 569.5 751.1)" stroke="#111" stroke-width="0.45">75</text>
<text x="569.5" y="869.6" font-size="18.0" font-weight="normal" text-anchor="middle" fill="#111" textLength="18.6" lengthAdjust="spacingAndGlyphs" transform="rotate(-90 569.5 869.6)" stroke="#111" stroke-width="0.45">50</text>
<text x="569.5" y="988.1" font-size="18.0" font-weight="normal" text-anchor="middle" fill="#111" textLength="18.6" lengthAdjust="spacingAndGlyphs" transform="rotate(-90 569.5 988.1)" stroke="#111" stroke-width="0.45">25</text>
<text x="569.5" y="1106.6" font-size="18.0" font-weight="normal" text-anchor="middle" fill="#111" textLength="9.3" lengthAdjust="spacingAndGlyphs" transform="rotate(-90 569.5 1106.6)" stroke="#111" stroke-width="0.45">0</text>
<line x1="591.2" y1="1106.6" x2="591.2" y2="1117.6" stroke="#111" stroke-width="1.90"/>
<line x1="604.1" y1="1106.6" x2="604.1" y2="1117.6" stroke="#111" stroke-width="1.90"/>
<line x1="614.1" y1="1106.6" x2="614.1" y2="1117.6" stroke="#111" stroke-width="1.90"/>
<line x1="622.2" y1="1106.6" x2="622.2" y2="1117.6" stroke="#111" stroke-width="1.90"/>
<line x1="629.1" y1="1106.6" x2="629.1" y2="1117.6" stroke="#111" stroke-width="1.90"/>
<line x1="635.1" y1="1106.6" x2="635.1" y2="1117.6" stroke="#111" stroke-width="1.90"/>
<line x1="640.4" y1="1106.6" x2="640.4" y2="1117.6" stroke="#111" stroke-width="1.90"/>
<line x1="645.1" y1="1106.6" x2="645.1" y2="1125.6" stroke="#111" stroke-width="1.90"/>
<line x1="676.1" y1="1106.6" x2="676.1" y2="1117.6" stroke="#111" stroke-width="1.90"/>
<line x1="694.2" y1="1106.6" x2="694.2" y2="1117.6" stroke="#111" stroke-width="1.90"/>
<line x1="707.1" y1="1106.6" x2="707.1" y2="1117.6" stroke="#111" stroke-width="1.90"/>
<line x1="717.1" y1="1106.6" x2="717.1" y2="1117.6" stroke="#111" stroke-width="1.90"/>
<line x1="725.2" y1="1106.6" x2="725.2" y2="1117.6" stroke="#111" stroke-width="1.90"/>
<line x1="732.1" y1="1106.6" x2="732.1" y2="1117.6" stroke="#111" stroke-width="1.90"/>
<line x1="738.1" y1="1106.6" x2="738.1" y2="1117.6" stroke="#111" stroke-width="1.90"/>
<line x1="743.4" y1="1106.6" x2="743.4" y2="1117.6" stroke="#111" stroke-width="1.90"/>
<line x1="748.1" y1="1106.6" x2="748.1" y2="1125.6" stroke="#111" stroke-width="1.90"/>
<line x1="779.1" y1="1106.6" x2="779.1" y2="1117.6" stroke="#111" stroke-width="1.90"/>
<line x1="797.2" y1="1106.6" x2="797.2" y2="1117.6" stroke="#111" stroke-width="1.90"/>
<line x1="810.1" y1="1106.6" x2="810.1" y2="1117.6" stroke="#111" stroke-width="1.90"/>
<line x1="820.1" y1="1106.6" x2="820.1" y2="1117.6" stroke="#111" stroke-width="1.90"/>
<line x1="828.2" y1="1106.6" x2="828.2" y2="1117.6" stroke="#111" stroke-width="1.90"/>
<line x1="835.1" y1="1106.6" x2="835.1" y2="1117.6" stroke="#111" stroke-width="1.90"/>
<line x1="841.1" y1="1106.6" x2="841.1" y2="1117.6" stroke="#111" stroke-width="1.90"/>
<line x1="846.4" y1="1106.6" x2="846.4" y2="1117.6" stroke="#111" stroke-width="1.90"/>
<line x1="851.1" y1="1106.6" x2="851.1" y2="1125.6" stroke="#111" stroke-width="1.90"/>
<line x1="882.1" y1="1106.6" x2="882.1" y2="1117.6" stroke="#111" stroke-width="1.90"/>
<line x1="900.2" y1="1106.6" x2="900.2" y2="1117.6" stroke="#111" stroke-width="1.90"/>
<line x1="913.1" y1="1106.6" x2="913.1" y2="1117.6" stroke="#111" stroke-width="1.90"/>
<line x1="923.1" y1="1106.6" x2="923.1" y2="1117.6" stroke="#111" stroke-width="1.90"/>
<line x1="931.2" y1="1106.6" x2="931.2" y2="1117.6" stroke="#111" stroke-width="1.90"/>
<line x1="938.1" y1="1106.6" x2="938.1" y2="1117.6" stroke="#111" stroke-width="1.90"/>
<line x1="944.1" y1="1106.6" x2="944.1" y2="1117.6" stroke="#111" stroke-width="1.90"/>
<line x1="949.4" y1="1106.6" x2="949.4" y2="1117.6" stroke="#111" stroke-width="1.90"/>
<line x1="954.1" y1="1106.6" x2="954.1" y2="1125.6" stroke="#111" stroke-width="1.90"/>
<line x1="985.1" y1="1106.6" x2="985.1" y2="1117.6" stroke="#111" stroke-width="1.90"/>
<text x="632.3" y="1146.4" font-size="18.2" font-weight="normal" text-anchor="start" fill="#111" textLength="16.2" lengthAdjust="spacingAndGlyphs" stroke="#111" stroke-width="0.45">10</text>
<text x="649.7" y="1135.4" font-size="16.6" font-weight="normal" text-anchor="start" fill="#111" textLength="8.4" lengthAdjust="spacingAndGlyphs" stroke="#111" stroke-width="0.45">2</text>
<text x="735.3" y="1146.4" font-size="18.2" font-weight="normal" text-anchor="start" fill="#111" textLength="16.2" lengthAdjust="spacingAndGlyphs" stroke="#111" stroke-width="0.45">10</text>
<text x="752.7" y="1135.4" font-size="16.6" font-weight="normal" text-anchor="start" fill="#111" textLength="8.4" lengthAdjust="spacingAndGlyphs" stroke="#111" stroke-width="0.45">3</text>
<text x="838.3" y="1146.4" font-size="18.2" font-weight="normal" text-anchor="start" fill="#111" textLength="16.2" lengthAdjust="spacingAndGlyphs" stroke="#111" stroke-width="0.45">10</text>
<text x="855.7" y="1135.4" font-size="16.6" font-weight="normal" text-anchor="start" fill="#111" textLength="8.4" lengthAdjust="spacingAndGlyphs" stroke="#111" stroke-width="0.45">4</text>
<text x="941.3" y="1146.4" font-size="18.2" font-weight="normal" text-anchor="start" fill="#111" textLength="16.2" lengthAdjust="spacingAndGlyphs" stroke="#111" stroke-width="0.45">10</text>
<text x="958.7" y="1135.4" font-size="16.6" font-weight="normal" text-anchor="start" fill="#111" textLength="8.4" lengthAdjust="spacingAndGlyphs" stroke="#111" stroke-width="0.45">5</text>
<text x="828.5" y="869.5" font-size="22.6" font-weight="normal" text-anchor="start" fill="#222" textLength="21.6" lengthAdjust="spacingAndGlyphs" >P2</text>
<text x="810.6" y="643.2" font-size="26.5" font-weight="bold" text-anchor="start" fill="#000" textLength="71.0" lengthAdjust="spacingAndGlyphs" >(10ul)</text>
<text x="809.6" y="680.4" font-size="26.5" font-weight="bold" text-anchor="start" fill="#000" textLength="89.5" lengthAdjust="spacingAndGlyphs" >46.43%</text>
<text x="903.2" y="680.4" font-size="28.0" font-weight="bold" text-anchor="start" fill="#000" textLength="16.5" lengthAdjust="spacingAndGlyphs" >±</text>
<text x="924.1" y="680.4" font-size="26.5" font-weight="bold" text-anchor="start" fill="#000" textLength="51.5" lengthAdjust="spacingAndGlyphs" >0.15</text>
<rect x="1177.0" y="927.4" width="44.4" height="103.3" fill="#fff" stroke="#000" stroke-width="2"/>
<rect x="1247.6" y="895.5" width="44.4" height="135.2" fill="#fff" stroke="#000" stroke-width="2"/>
<rect x="1318.0" y="702.9" width="44.4" height="327.8" fill="#fff" stroke="#000" stroke-width="2"/>
<rect x="1388.5" y="814.9" width="44.4" height="215.8" fill="#fff" stroke="#000" stroke-width="2"/>
<rect x="1458.8" y="854.7" width="44.4" height="176.0" fill="#fff" stroke="#000" stroke-width="2"/>
<line x1="1153.3" y1="646.8" x2="1153.3" y2="1032.7" stroke="#000" stroke-width="4.00"/>
<line x1="1136.0" y1="1030.7" x2="1530.0" y2="1030.7" stroke="#000" stroke-width="4.00"/>
<line x1="1137.0" y1="1030.7" x2="1153.3" y2="1030.7" stroke="#000" stroke-width="3.60"/>
<text x="1131.8" y="1040.3" font-size="27.3" font-weight="bold" text-anchor="end" fill="#000" >0</text>
<line x1="1137.0" y1="954.5" x2="1153.3" y2="954.5" stroke="#000" stroke-width="3.60"/>
<text x="1131.8" y="964.1" font-size="27.3" font-weight="bold" text-anchor="end" fill="#000" >20</text>
<line x1="1137.0" y1="878.2" x2="1153.3" y2="878.2" stroke="#000" stroke-width="3.60"/>
<text x="1131.8" y="887.8" font-size="27.3" font-weight="bold" text-anchor="end" fill="#000" >40</text>
<line x1="1137.0" y1="802.0" x2="1153.3" y2="802.0" stroke="#000" stroke-width="3.60"/>
<text x="1131.8" y="811.6" font-size="27.3" font-weight="bold" text-anchor="end" fill="#000" >60</text>
<line x1="1137.0" y1="725.7" x2="1153.3" y2="725.7" stroke="#000" stroke-width="3.60"/>
<text x="1131.8" y="735.3" font-size="27.3" font-weight="bold" text-anchor="end" fill="#000" >80</text>
<line x1="1137.0" y1="649.5" x2="1153.3" y2="649.5" stroke="#000" stroke-width="3.60"/>
<text x="1131.8" y="659.1" font-size="27.3" font-weight="bold" text-anchor="end" fill="#000" >100</text>
<line x1="1199.2" y1="1030.7" x2="1199.2" y2="1047.4" stroke="#000" stroke-width="3.60"/>
<text x="1164.8" y="1078.2" font-size="25.0" font-weight="bold" text-anchor="start" fill="#000" textLength="69.5" lengthAdjust="spacingAndGlyphs" >1.25ul</text>
<line x1="1269.8" y1="1030.7" x2="1269.8" y2="1047.4" stroke="#000" stroke-width="3.60"/>
<text x="1242.1" y="1078.2" font-size="25.0" font-weight="bold" text-anchor="start" fill="#000" textLength="56.0" lengthAdjust="spacingAndGlyphs" >2.5ul</text>
<line x1="1340.2" y1="1030.7" x2="1340.2" y2="1047.4" stroke="#000" stroke-width="3.60"/>
<text x="1323.2" y="1078.2" font-size="25.0" font-weight="bold" text-anchor="start" fill="#000" textLength="34.6" lengthAdjust="spacingAndGlyphs" >5ul</text>
<line x1="1410.7" y1="1030.7" x2="1410.7" y2="1047.4" stroke="#000" stroke-width="3.60"/>
<text x="1383.0" y="1078.2" font-size="25.0" font-weight="bold" text-anchor="start" fill="#000" textLength="56.0" lengthAdjust="spacingAndGlyphs" >7.5ul</text>
<line x1="1481.0" y1="1030.7" x2="1481.0" y2="1047.4" stroke="#000" stroke-width="3.60"/>
<text x="1457.1" y="1078.2" font-size="25.0" font-weight="bold" text-anchor="start" fill="#000" textLength="48.4" lengthAdjust="spacingAndGlyphs" >10ul</text>
<line x1="1188.3" y1="922.4" x2="1210.9" y2="922.4" stroke="#000" stroke-width="2.00"/>
<line x1="1188.3" y1="931.2" x2="1210.9" y2="931.2" stroke="#000" stroke-width="2.00"/>
<line x1="1199.6" y1="922.4" x2="1199.6" y2="931.2" stroke="#000" stroke-width="2.00"/>
<line x1="1258.6" y1="885.2" x2="1281.2" y2="885.2" stroke="#000" stroke-width="2.00"/>
<line x1="1258.6" y1="904.8" x2="1281.2" y2="904.8" stroke="#000" stroke-width="2.00"/>
<line x1="1269.9" y1="885.2" x2="1269.9" y2="904.8" stroke="#000" stroke-width="2.00"/>
<line x1="1328.9" y1="700.4" x2="1351.5" y2="700.4" stroke="#000" stroke-width="2.00"/>
<line x1="1328.9" y1="704.9" x2="1351.5" y2="704.9" stroke="#000" stroke-width="2.00"/>
<line x1="1340.2" y1="700.4" x2="1340.2" y2="704.9" stroke="#000" stroke-width="2.00"/>
<line x1="1399.3" y1="809.9" x2="1421.9" y2="809.9" stroke="#000" stroke-width="2.00"/>
<line x1="1399.3" y1="819.2" x2="1421.9" y2="819.2" stroke="#000" stroke-width="2.00"/>
<line x1="1410.6" y1="809.9" x2="1410.6" y2="819.2" stroke="#000" stroke-width="2.00"/>
<line x1="1465.5" y1="854.7" x2="1496.7" y2="854.7" stroke="#000" stroke-width="2.00"/>
<circle cx="1194.9" cy="921.9" r="3.9" fill="#000"/>
<circle cx="1204.2" cy="923.2" r="3.9" fill="#000"/>
<circle cx="1199.4" cy="935.7" r="3.9" fill="#000"/>
<circle cx="1265.3" cy="881.6" r="3.9" fill="#000"/>
<circle cx="1274.6" cy="888.4" r="3.9" fill="#000"/>
<circle cx="1269.6" cy="914.4" r="3.9" fill="#000"/>
<circle cx="1324.6" cy="699.1" r="3.9" fill="#000"/>
<circle cx="1340.4" cy="702.2" r="3.9" fill="#000"/>
<circle cx="1356.0" cy="707.2" r="3.9" fill="#000"/>
<circle cx="1410.9" cy="806.1" r="3.9" fill="#000"/>
<circle cx="1405.9" cy="814.4" r="3.9" fill="#000"/>
<circle cx="1415.4" cy="822.5" r="3.9" fill="#000"/>
<circle cx="1465.5" cy="854.4" r="3.9" fill="#000"/>
<circle cx="1481.1" cy="854.7" r="3.9" fill="#000"/>
<circle cx="1496.7" cy="854.9" r="3.9" fill="#000"/>
<text x="1325.3" y="692.0" font-size="27.0" font-weight="bold" text-anchor="start" fill="#000" textLength="29.7" lengthAdjust="spacingAndGlyphs" >*#</text>
<text x="1393.8" y="794.0" font-size="27.0" font-weight="bold" text-anchor="start" fill="#000" textLength="34.7" lengthAdjust="spacingAndGlyphs" >*&amp;</text>
<text x="1463.8" y="841.9" font-size="27.0" font-weight="bold" text-anchor="start" fill="#000" textLength="34.7" lengthAdjust="spacingAndGlyphs" >*&amp;</text>
<text x="1211.4" y="1139.8" font-size="34.5" font-weight="bold" text-anchor="start" fill="#000" textLength="256.6" lengthAdjust="spacingAndGlyphs" >concentration(ul)</text>
<text x="1064.4" y="990.6" font-size="34.5" font-weight="bold" text-anchor="start" fill="#000" textLength="307.0" lengthAdjust="spacingAndGlyphs" transform="rotate(-90 1064.4 990.6)" >combination rate(%)</text>
<text x="1041.0" y="606.2" font-size="27.5" font-weight="bold" text-anchor="start" fill="#000" >B</text>
</svg>
</body></html>
